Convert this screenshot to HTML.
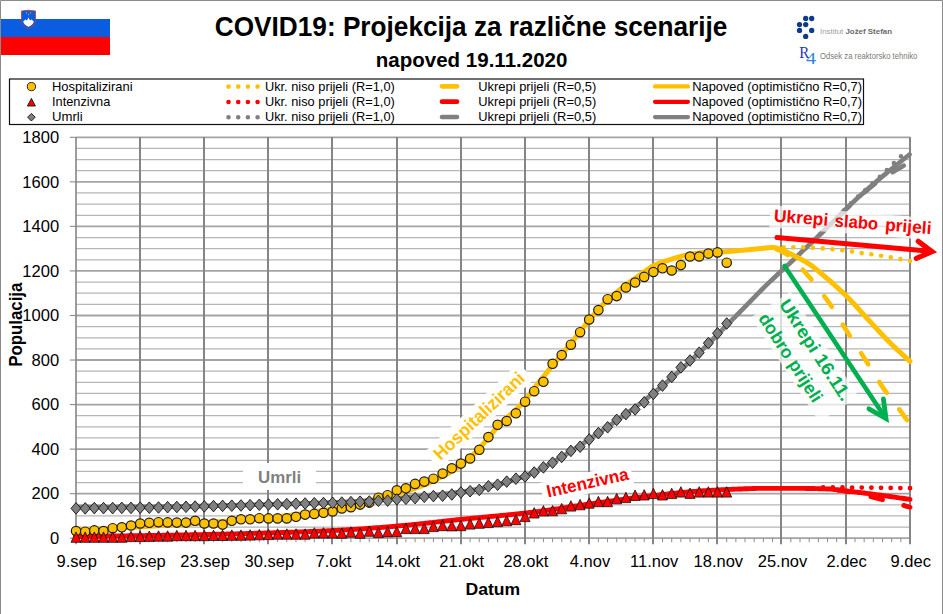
<!DOCTYPE html>
<html><head><meta charset="utf-8"><title>COVID19 projekcija</title>
<style>
html,body{margin:0;padding:0;background:#fff;}
body{width:943px;height:614px;overflow:hidden;position:relative;font-family:"Liberation Sans",sans-serif;}
svg{position:absolute;left:0;top:0;display:block;}
text{font-family:"Liberation Sans",sans-serif;}
</style></head><body>
<svg width="943" height="614" viewBox="0 0 943 614">
<rect x="0" y="0" width="943" height="614" fill="#fff"/>

<path d="M0.5,614 V0.5 H942.5 V614" fill="none" stroke="#8a8a8a" stroke-width="1"/>
<rect x="1" y="19" width="109" height="18" fill="#0a5ce0"/>
<rect x="1" y="37" width="109" height="18" fill="#ff0000"/>
<path d="M21.5,11 Q28.5,9.5 35.5,11 L35.5,21 Q35.5,26 28.5,28.5 Q21.5,26 21.5,21 Z" fill="#0a5ce0" stroke="#c0392b" stroke-width="0.8"/>
<path d="M23.2,21.5 L25.5,19.5 L27,20.5 L28.5,17.5 L30,20.5 L31.5,19.5 L33.8,21.5 Q33,25 28.5,26.8 Q24,25 23.2,21.5 Z" fill="#fff"/>
<circle cx="26.5" cy="12.8" r="0.6" fill="#f2d21b"/><circle cx="30.5" cy="12.8" r="0.6" fill="#f2d21b"/><circle cx="28.5" cy="14.6" r="0.6" fill="#f2d21b"/>
<text x="214.8" y="35.6" font-size="28.5" font-weight="bold" fill="#000" textLength="512.5" lengthAdjust="spacingAndGlyphs">COVID19: Projekcija za različne scenarije</text>
<text x="375.8" y="66.7" font-size="20.5" font-weight="bold" fill="#000" textLength="191.6" lengthAdjust="spacingAndGlyphs">napoved 19.11.2020</text>
<circle cx="805.7" cy="18.5" r="2.65" fill="#0d3a8a"/>
<circle cx="811.7" cy="18.5" r="2.65" fill="#0d3a8a"/>
<circle cx="799.5" cy="24.6" r="2.65" fill="#0d3a8a"/>
<circle cx="805.7" cy="24.6" r="2.65" fill="#0d3a8a"/>
<circle cx="799.5" cy="30.4" r="2.65" fill="#0d3a8a"/>
<circle cx="811.7" cy="30.4" r="2.65" fill="#0d3a8a"/>
<circle cx="805.7" cy="36.4" r="2.65" fill="#0d3a8a"/>
<text x="820" y="33.6" font-size="7.6" fill="#a0a0a0" textLength="72" lengthAdjust="spacingAndGlyphs">Institut <tspan font-weight="bold" fill="#6a6a6a">Jožef Stefan</tspan></text>
<text x="799.3" y="58.4" style="font-family:'Liberation Serif',serif" font-size="16.5" fill="#1f35b8" textLength="10" lengthAdjust="spacingAndGlyphs">R</text>
<text x="806" y="64.3" style="font-family:'Liberation Serif',serif" font-size="16.5" fill="#2f86e0" textLength="10" lengthAdjust="spacingAndGlyphs">4</text>
<text x="820" y="58.6" font-size="8.2" fill="#7a7a7a" textLength="97.4" lengthAdjust="spacingAndGlyphs">Odsek za reaktorsko tehniko</text>
<rect x="9.5" y="79" width="854" height="45.5" fill="#fff" stroke="#111" stroke-width="1.2"/>
<circle cx="31.4" cy="86.6" r="4.1" fill="#FFC000" stroke="#111" stroke-width="0.9"/>
<path d="M27.4,106 L31.4,98.4 L35.4,106 Z" fill="#FF0000" stroke="#111" stroke-width="0.9"/>
<path d="M31.4,113.4 L35.2,117.2 L31.4,121 L27.6,117.2 Z" fill="#808080" stroke="#111" stroke-width="0.9"/>
<text x="52" y="90.7" font-size="13.5" fill="#000" textLength="80.6" lengthAdjust="spacingAndGlyphs">Hospitalizirani</text>
<path d="M228.5,86.6 L258,86.6" stroke="#FFC000" stroke-width="4.6" stroke-linecap="round" stroke-dasharray="0 9.7" fill="none"/>
<text x="264.9" y="90.7" font-size="13.5" fill="#000" textLength="129.9" lengthAdjust="spacingAndGlyphs">Ukr. niso prijeli (R=1,0)</text>
<path d="M442,86.3 L457,86.3" stroke="#FFC000" stroke-width="4.7" stroke-linecap="round" fill="none"/>
<text x="478.3" y="90.7" font-size="13.5" fill="#000" textLength="117.9" lengthAdjust="spacingAndGlyphs">Ukrepi prijeli (R=0,5)</text>
<path d="M655,86.39999999999999 L688,86.39999999999999" stroke="#FFC000" stroke-width="4.2" stroke-linecap="round" fill="none"/>
<text x="692.2" y="90.7" font-size="13.5" fill="#000" textLength="169.8" lengthAdjust="spacingAndGlyphs">Napoved (optimistično R=0,7)</text>
<text x="52" y="105.9" font-size="13.5" fill="#000" textLength="58.3" lengthAdjust="spacingAndGlyphs">Intenzivna</text>
<path d="M228.5,102.0 L258,102.0" stroke="#FF0000" stroke-width="4.6" stroke-linecap="round" stroke-dasharray="0 9.7" fill="none"/>
<text x="264.9" y="105.9" font-size="13.5" fill="#000" textLength="129.9" lengthAdjust="spacingAndGlyphs">Ukr. niso prijeli (R=1,0)</text>
<path d="M442,101.7 L457,101.7" stroke="#FF0000" stroke-width="4.7" stroke-linecap="round" fill="none"/>
<text x="478.3" y="105.9" font-size="13.5" fill="#000" textLength="117.9" lengthAdjust="spacingAndGlyphs">Ukrepi prijeli (R=0,5)</text>
<path d="M655,101.8 L688,101.8" stroke="#FF0000" stroke-width="4.2" stroke-linecap="round" fill="none"/>
<text x="692.2" y="105.9" font-size="13.5" fill="#000" textLength="169.8" lengthAdjust="spacingAndGlyphs">Napoved (optimistično R=0,7)</text>
<text x="52" y="121.1" font-size="13.5" fill="#000" textLength="30.7" lengthAdjust="spacingAndGlyphs">Umrli</text>
<path d="M228.5,117.3 L258,117.3" stroke="#808080" stroke-width="4.6" stroke-linecap="round" stroke-dasharray="0 9.7" fill="none"/>
<text x="264.9" y="121.1" font-size="13.5" fill="#000" textLength="129.9" lengthAdjust="spacingAndGlyphs">Ukr. niso prijeli (R=1,0)</text>
<path d="M442,117.0 L457,117.0" stroke="#808080" stroke-width="4.7" stroke-linecap="round" fill="none"/>
<text x="478.3" y="121.1" font-size="13.5" fill="#000" textLength="117.9" lengthAdjust="spacingAndGlyphs">Ukrepi prijeli (R=0,5)</text>
<path d="M655,117.1 L688,117.1" stroke="#808080" stroke-width="4.2" stroke-linecap="round" fill="none"/>
<text x="692.2" y="121.1" font-size="13.5" fill="#000" textLength="169.8" lengthAdjust="spacingAndGlyphs">Napoved (optimistično R=0,7)</text>
<line x1="76.0" y1="538.20" x2="910.0" y2="538.20" stroke="#a4a4a4" stroke-width="1.8"/>
<line x1="76.0" y1="527.06" x2="910.0" y2="527.06" stroke="#b6b6b6" stroke-width="1.25"/>
<line x1="76.0" y1="515.93" x2="910.0" y2="515.93" stroke="#b6b6b6" stroke-width="1.25"/>
<line x1="76.0" y1="504.79" x2="910.0" y2="504.79" stroke="#b6b6b6" stroke-width="1.25"/>
<line x1="76.0" y1="493.66" x2="910.0" y2="493.66" stroke="#a4a4a4" stroke-width="1.8"/>
<line x1="76.0" y1="482.52" x2="910.0" y2="482.52" stroke="#b6b6b6" stroke-width="1.25"/>
<line x1="76.0" y1="471.38" x2="910.0" y2="471.38" stroke="#b6b6b6" stroke-width="1.25"/>
<line x1="76.0" y1="460.25" x2="910.0" y2="460.25" stroke="#b6b6b6" stroke-width="1.25"/>
<line x1="76.0" y1="449.11" x2="910.0" y2="449.11" stroke="#a4a4a4" stroke-width="1.8"/>
<line x1="76.0" y1="437.98" x2="910.0" y2="437.98" stroke="#b6b6b6" stroke-width="1.25"/>
<line x1="76.0" y1="426.84" x2="910.0" y2="426.84" stroke="#b6b6b6" stroke-width="1.25"/>
<line x1="76.0" y1="415.70" x2="910.0" y2="415.70" stroke="#b6b6b6" stroke-width="1.25"/>
<line x1="76.0" y1="404.57" x2="910.0" y2="404.57" stroke="#a4a4a4" stroke-width="1.8"/>
<line x1="76.0" y1="393.43" x2="910.0" y2="393.43" stroke="#b6b6b6" stroke-width="1.25"/>
<line x1="76.0" y1="382.29" x2="910.0" y2="382.29" stroke="#b6b6b6" stroke-width="1.25"/>
<line x1="76.0" y1="371.16" x2="910.0" y2="371.16" stroke="#b6b6b6" stroke-width="1.25"/>
<line x1="76.0" y1="360.02" x2="910.0" y2="360.02" stroke="#a4a4a4" stroke-width="1.8"/>
<line x1="76.0" y1="348.89" x2="910.0" y2="348.89" stroke="#b6b6b6" stroke-width="1.25"/>
<line x1="76.0" y1="337.75" x2="910.0" y2="337.75" stroke="#b6b6b6" stroke-width="1.25"/>
<line x1="76.0" y1="326.61" x2="910.0" y2="326.61" stroke="#b6b6b6" stroke-width="1.25"/>
<line x1="76.0" y1="315.48" x2="910.0" y2="315.48" stroke="#a4a4a4" stroke-width="1.8"/>
<line x1="76.0" y1="304.34" x2="910.0" y2="304.34" stroke="#b6b6b6" stroke-width="1.25"/>
<line x1="76.0" y1="293.21" x2="910.0" y2="293.21" stroke="#b6b6b6" stroke-width="1.25"/>
<line x1="76.0" y1="282.07" x2="910.0" y2="282.07" stroke="#b6b6b6" stroke-width="1.25"/>
<line x1="76.0" y1="270.93" x2="910.0" y2="270.93" stroke="#a4a4a4" stroke-width="1.8"/>
<line x1="76.0" y1="259.80" x2="910.0" y2="259.80" stroke="#b6b6b6" stroke-width="1.25"/>
<line x1="76.0" y1="248.66" x2="910.0" y2="248.66" stroke="#b6b6b6" stroke-width="1.25"/>
<line x1="76.0" y1="237.53" x2="910.0" y2="237.53" stroke="#b6b6b6" stroke-width="1.25"/>
<line x1="76.0" y1="226.39" x2="910.0" y2="226.39" stroke="#a4a4a4" stroke-width="1.8"/>
<line x1="76.0" y1="215.25" x2="910.0" y2="215.25" stroke="#b6b6b6" stroke-width="1.25"/>
<line x1="76.0" y1="204.12" x2="910.0" y2="204.12" stroke="#b6b6b6" stroke-width="1.25"/>
<line x1="76.0" y1="192.98" x2="910.0" y2="192.98" stroke="#b6b6b6" stroke-width="1.25"/>
<line x1="76.0" y1="181.84" x2="910.0" y2="181.84" stroke="#a4a4a4" stroke-width="1.8"/>
<line x1="76.0" y1="170.71" x2="910.0" y2="170.71" stroke="#b6b6b6" stroke-width="1.25"/>
<line x1="76.0" y1="159.57" x2="910.0" y2="159.57" stroke="#b6b6b6" stroke-width="1.25"/>
<line x1="76.0" y1="148.44" x2="910.0" y2="148.44" stroke="#b6b6b6" stroke-width="1.25"/>
<line x1="76.0" y1="137.30" x2="910.0" y2="137.30" stroke="#a4a4a4" stroke-width="1.8"/>
<line x1="76.00" y1="137.00" x2="76.00" y2="544.20" stroke="#858585" stroke-width="1.6"/>
<line x1="140.00" y1="137.00" x2="140.00" y2="544.20" stroke="#858585" stroke-width="2"/>
<line x1="204.00" y1="137.00" x2="204.00" y2="544.20" stroke="#858585" stroke-width="2"/>
<line x1="268.00" y1="137.00" x2="268.00" y2="544.20" stroke="#858585" stroke-width="2"/>
<line x1="332.00" y1="137.00" x2="332.00" y2="544.20" stroke="#858585" stroke-width="2"/>
<line x1="397.00" y1="137.00" x2="397.00" y2="544.20" stroke="#858585" stroke-width="2"/>
<line x1="461.00" y1="137.00" x2="461.00" y2="544.20" stroke="#858585" stroke-width="2"/>
<line x1="525.00" y1="137.00" x2="525.00" y2="544.20" stroke="#858585" stroke-width="2"/>
<line x1="589.00" y1="137.00" x2="589.00" y2="544.20" stroke="#858585" stroke-width="2"/>
<line x1="653.00" y1="137.00" x2="653.00" y2="544.20" stroke="#858585" stroke-width="2"/>
<line x1="717.00" y1="137.00" x2="717.00" y2="544.20" stroke="#858585" stroke-width="2"/>
<line x1="781.00" y1="137.00" x2="781.00" y2="544.20" stroke="#858585" stroke-width="2"/>
<line x1="846.00" y1="137.00" x2="846.00" y2="544.20" stroke="#858585" stroke-width="2"/>
<line x1="910.00" y1="137.00" x2="910.00" y2="544.20" stroke="#858585" stroke-width="2"/>
<line x1="85.16" y1="538.20" x2="85.16" y2="542.20" stroke="#8c8c8c" stroke-width="1"/>
<line x1="94.33" y1="538.20" x2="94.33" y2="542.20" stroke="#8c8c8c" stroke-width="1"/>
<line x1="103.49" y1="538.20" x2="103.49" y2="542.20" stroke="#8c8c8c" stroke-width="1"/>
<line x1="112.66" y1="538.20" x2="112.66" y2="542.20" stroke="#8c8c8c" stroke-width="1"/>
<line x1="121.82" y1="538.20" x2="121.82" y2="542.20" stroke="#8c8c8c" stroke-width="1"/>
<line x1="130.99" y1="538.20" x2="130.99" y2="542.20" stroke="#8c8c8c" stroke-width="1"/>
<line x1="149.32" y1="538.20" x2="149.32" y2="542.20" stroke="#8c8c8c" stroke-width="1"/>
<line x1="158.48" y1="538.20" x2="158.48" y2="542.20" stroke="#8c8c8c" stroke-width="1"/>
<line x1="167.65" y1="538.20" x2="167.65" y2="542.20" stroke="#8c8c8c" stroke-width="1"/>
<line x1="176.81" y1="538.20" x2="176.81" y2="542.20" stroke="#8c8c8c" stroke-width="1"/>
<line x1="185.98" y1="538.20" x2="185.98" y2="542.20" stroke="#8c8c8c" stroke-width="1"/>
<line x1="195.14" y1="538.20" x2="195.14" y2="542.20" stroke="#8c8c8c" stroke-width="1"/>
<line x1="213.47" y1="538.20" x2="213.47" y2="542.20" stroke="#8c8c8c" stroke-width="1"/>
<line x1="222.64" y1="538.20" x2="222.64" y2="542.20" stroke="#8c8c8c" stroke-width="1"/>
<line x1="231.80" y1="538.20" x2="231.80" y2="542.20" stroke="#8c8c8c" stroke-width="1"/>
<line x1="240.97" y1="538.20" x2="240.97" y2="542.20" stroke="#8c8c8c" stroke-width="1"/>
<line x1="250.13" y1="538.20" x2="250.13" y2="542.20" stroke="#8c8c8c" stroke-width="1"/>
<line x1="259.30" y1="538.20" x2="259.30" y2="542.20" stroke="#8c8c8c" stroke-width="1"/>
<line x1="277.63" y1="538.20" x2="277.63" y2="542.20" stroke="#8c8c8c" stroke-width="1"/>
<line x1="286.79" y1="538.20" x2="286.79" y2="542.20" stroke="#8c8c8c" stroke-width="1"/>
<line x1="295.96" y1="538.20" x2="295.96" y2="542.20" stroke="#8c8c8c" stroke-width="1"/>
<line x1="305.12" y1="538.20" x2="305.12" y2="542.20" stroke="#8c8c8c" stroke-width="1"/>
<line x1="314.29" y1="538.20" x2="314.29" y2="542.20" stroke="#8c8c8c" stroke-width="1"/>
<line x1="323.45" y1="538.20" x2="323.45" y2="542.20" stroke="#8c8c8c" stroke-width="1"/>
<line x1="341.78" y1="538.20" x2="341.78" y2="542.20" stroke="#8c8c8c" stroke-width="1"/>
<line x1="350.95" y1="538.20" x2="350.95" y2="542.20" stroke="#8c8c8c" stroke-width="1"/>
<line x1="360.11" y1="538.20" x2="360.11" y2="542.20" stroke="#8c8c8c" stroke-width="1"/>
<line x1="369.27" y1="538.20" x2="369.27" y2="542.20" stroke="#8c8c8c" stroke-width="1"/>
<line x1="378.44" y1="538.20" x2="378.44" y2="542.20" stroke="#8c8c8c" stroke-width="1"/>
<line x1="387.60" y1="538.20" x2="387.60" y2="542.20" stroke="#8c8c8c" stroke-width="1"/>
<line x1="405.93" y1="538.20" x2="405.93" y2="542.20" stroke="#8c8c8c" stroke-width="1"/>
<line x1="415.10" y1="538.20" x2="415.10" y2="542.20" stroke="#8c8c8c" stroke-width="1"/>
<line x1="424.26" y1="538.20" x2="424.26" y2="542.20" stroke="#8c8c8c" stroke-width="1"/>
<line x1="433.43" y1="538.20" x2="433.43" y2="542.20" stroke="#8c8c8c" stroke-width="1"/>
<line x1="442.59" y1="538.20" x2="442.59" y2="542.20" stroke="#8c8c8c" stroke-width="1"/>
<line x1="451.76" y1="538.20" x2="451.76" y2="542.20" stroke="#8c8c8c" stroke-width="1"/>
<line x1="470.09" y1="538.20" x2="470.09" y2="542.20" stroke="#8c8c8c" stroke-width="1"/>
<line x1="479.25" y1="538.20" x2="479.25" y2="542.20" stroke="#8c8c8c" stroke-width="1"/>
<line x1="488.42" y1="538.20" x2="488.42" y2="542.20" stroke="#8c8c8c" stroke-width="1"/>
<line x1="497.58" y1="538.20" x2="497.58" y2="542.20" stroke="#8c8c8c" stroke-width="1"/>
<line x1="506.75" y1="538.20" x2="506.75" y2="542.20" stroke="#8c8c8c" stroke-width="1"/>
<line x1="515.91" y1="538.20" x2="515.91" y2="542.20" stroke="#8c8c8c" stroke-width="1"/>
<line x1="534.24" y1="538.20" x2="534.24" y2="542.20" stroke="#8c8c8c" stroke-width="1"/>
<line x1="543.41" y1="538.20" x2="543.41" y2="542.20" stroke="#8c8c8c" stroke-width="1"/>
<line x1="552.57" y1="538.20" x2="552.57" y2="542.20" stroke="#8c8c8c" stroke-width="1"/>
<line x1="561.74" y1="538.20" x2="561.74" y2="542.20" stroke="#8c8c8c" stroke-width="1"/>
<line x1="570.90" y1="538.20" x2="570.90" y2="542.20" stroke="#8c8c8c" stroke-width="1"/>
<line x1="580.07" y1="538.20" x2="580.07" y2="542.20" stroke="#8c8c8c" stroke-width="1"/>
<line x1="598.40" y1="538.20" x2="598.40" y2="542.20" stroke="#8c8c8c" stroke-width="1"/>
<line x1="607.56" y1="538.20" x2="607.56" y2="542.20" stroke="#8c8c8c" stroke-width="1"/>
<line x1="616.73" y1="538.20" x2="616.73" y2="542.20" stroke="#8c8c8c" stroke-width="1"/>
<line x1="625.89" y1="538.20" x2="625.89" y2="542.20" stroke="#8c8c8c" stroke-width="1"/>
<line x1="635.05" y1="538.20" x2="635.05" y2="542.20" stroke="#8c8c8c" stroke-width="1"/>
<line x1="644.22" y1="538.20" x2="644.22" y2="542.20" stroke="#8c8c8c" stroke-width="1"/>
<line x1="662.55" y1="538.20" x2="662.55" y2="542.20" stroke="#8c8c8c" stroke-width="1"/>
<line x1="671.71" y1="538.20" x2="671.71" y2="542.20" stroke="#8c8c8c" stroke-width="1"/>
<line x1="680.88" y1="538.20" x2="680.88" y2="542.20" stroke="#8c8c8c" stroke-width="1"/>
<line x1="690.04" y1="538.20" x2="690.04" y2="542.20" stroke="#8c8c8c" stroke-width="1"/>
<line x1="699.21" y1="538.20" x2="699.21" y2="542.20" stroke="#8c8c8c" stroke-width="1"/>
<line x1="708.37" y1="538.20" x2="708.37" y2="542.20" stroke="#8c8c8c" stroke-width="1"/>
<line x1="726.70" y1="538.20" x2="726.70" y2="542.20" stroke="#8c8c8c" stroke-width="1"/>
<line x1="735.87" y1="538.20" x2="735.87" y2="542.20" stroke="#8c8c8c" stroke-width="1"/>
<line x1="745.03" y1="538.20" x2="745.03" y2="542.20" stroke="#8c8c8c" stroke-width="1"/>
<line x1="754.20" y1="538.20" x2="754.20" y2="542.20" stroke="#8c8c8c" stroke-width="1"/>
<line x1="763.36" y1="538.20" x2="763.36" y2="542.20" stroke="#8c8c8c" stroke-width="1"/>
<line x1="772.53" y1="538.20" x2="772.53" y2="542.20" stroke="#8c8c8c" stroke-width="1"/>
<line x1="790.86" y1="538.20" x2="790.86" y2="542.20" stroke="#8c8c8c" stroke-width="1"/>
<line x1="800.02" y1="538.20" x2="800.02" y2="542.20" stroke="#8c8c8c" stroke-width="1"/>
<line x1="809.19" y1="538.20" x2="809.19" y2="542.20" stroke="#8c8c8c" stroke-width="1"/>
<line x1="818.35" y1="538.20" x2="818.35" y2="542.20" stroke="#8c8c8c" stroke-width="1"/>
<line x1="827.52" y1="538.20" x2="827.52" y2="542.20" stroke="#8c8c8c" stroke-width="1"/>
<line x1="836.68" y1="538.20" x2="836.68" y2="542.20" stroke="#8c8c8c" stroke-width="1"/>
<line x1="855.01" y1="538.20" x2="855.01" y2="542.20" stroke="#8c8c8c" stroke-width="1"/>
<line x1="864.18" y1="538.20" x2="864.18" y2="542.20" stroke="#8c8c8c" stroke-width="1"/>
<line x1="873.34" y1="538.20" x2="873.34" y2="542.20" stroke="#8c8c8c" stroke-width="1"/>
<line x1="882.51" y1="538.20" x2="882.51" y2="542.20" stroke="#8c8c8c" stroke-width="1"/>
<line x1="891.67" y1="538.20" x2="891.67" y2="542.20" stroke="#8c8c8c" stroke-width="1"/>
<line x1="900.84" y1="538.20" x2="900.84" y2="542.20" stroke="#8c8c8c" stroke-width="1"/>
<line x1="69.8" y1="538.20" x2="76.0" y2="538.20" stroke="#8c8c8c" stroke-width="1.1"/>
<line x1="69.8" y1="493.66" x2="76.0" y2="493.66" stroke="#8c8c8c" stroke-width="1.1"/>
<line x1="69.8" y1="449.11" x2="76.0" y2="449.11" stroke="#8c8c8c" stroke-width="1.1"/>
<line x1="69.8" y1="404.57" x2="76.0" y2="404.57" stroke="#8c8c8c" stroke-width="1.1"/>
<line x1="69.8" y1="360.02" x2="76.0" y2="360.02" stroke="#8c8c8c" stroke-width="1.1"/>
<line x1="69.8" y1="315.48" x2="76.0" y2="315.48" stroke="#8c8c8c" stroke-width="1.1"/>
<line x1="69.8" y1="270.93" x2="76.0" y2="270.93" stroke="#8c8c8c" stroke-width="1.1"/>
<line x1="69.8" y1="226.39" x2="76.0" y2="226.39" stroke="#8c8c8c" stroke-width="1.1"/>
<line x1="69.8" y1="181.84" x2="76.0" y2="181.84" stroke="#8c8c8c" stroke-width="1.1"/>
<line x1="69.8" y1="137.30" x2="76.0" y2="137.30" stroke="#8c8c8c" stroke-width="1.1"/>
<g transform="translate(59.2,543.9) scale(1.05,1)"><text x="0" y="0" font-size="15.8" fill="#000" text-anchor="end">0</text></g>
<g transform="translate(59.2,499.4) scale(1.05,1)"><text x="0" y="0" font-size="15.8" fill="#000" text-anchor="end">200</text></g>
<g transform="translate(59.2,454.8) scale(1.05,1)"><text x="0" y="0" font-size="15.8" fill="#000" text-anchor="end">400</text></g>
<g transform="translate(59.2,410.3) scale(1.05,1)"><text x="0" y="0" font-size="15.8" fill="#000" text-anchor="end">600</text></g>
<g transform="translate(59.2,365.7) scale(1.05,1)"><text x="0" y="0" font-size="15.8" fill="#000" text-anchor="end">800</text></g>
<g transform="translate(59.2,321.2) scale(1.05,1)"><text x="0" y="0" font-size="15.8" fill="#000" text-anchor="end">1000</text></g>
<g transform="translate(59.2,276.6) scale(1.05,1)"><text x="0" y="0" font-size="15.8" fill="#000" text-anchor="end">1200</text></g>
<g transform="translate(59.2,232.1) scale(1.05,1)"><text x="0" y="0" font-size="15.8" fill="#000" text-anchor="end">1400</text></g>
<g transform="translate(59.2,187.5) scale(1.05,1)"><text x="0" y="0" font-size="15.8" fill="#000" text-anchor="end">1600</text></g>
<g transform="translate(59.2,143.0) scale(1.05,1)"><text x="0" y="0" font-size="15.8" fill="#000" text-anchor="end">1800</text></g>
<g transform="translate(76.8,566.9) scale(1.045,1)"><text x="0" y="0" font-size="15.8" fill="#000" text-anchor="middle">9.sep</text></g>
<g transform="translate(141.0,566.9) scale(1.045,1)"><text x="0" y="0" font-size="15.8" fill="#000" text-anchor="middle">16.sep</text></g>
<g transform="translate(205.1,566.9) scale(1.045,1)"><text x="0" y="0" font-size="15.8" fill="#000" text-anchor="middle">23.sep</text></g>
<g transform="translate(269.3,566.9) scale(1.045,1)"><text x="0" y="0" font-size="15.8" fill="#000" text-anchor="middle">30.sep</text></g>
<g transform="translate(333.4,566.9) scale(1.045,1)"><text x="0" y="0" font-size="15.8" fill="#000" text-anchor="middle">7.okt</text></g>
<g transform="translate(397.6,566.9) scale(1.045,1)"><text x="0" y="0" font-size="15.8" fill="#000" text-anchor="middle">14.okt</text></g>
<g transform="translate(461.7,566.9) scale(1.045,1)"><text x="0" y="0" font-size="15.8" fill="#000" text-anchor="middle">21.okt</text></g>
<g transform="translate(525.9,566.9) scale(1.045,1)"><text x="0" y="0" font-size="15.8" fill="#000" text-anchor="middle">28.okt</text></g>
<g transform="translate(590.0,566.9) scale(1.045,1)"><text x="0" y="0" font-size="15.8" fill="#000" text-anchor="middle">4.nov</text></g>
<g transform="translate(654.2,566.9) scale(1.045,1)"><text x="0" y="0" font-size="15.8" fill="#000" text-anchor="middle">11.nov</text></g>
<g transform="translate(718.3,566.9) scale(1.045,1)"><text x="0" y="0" font-size="15.8" fill="#000" text-anchor="middle">18.nov</text></g>
<g transform="translate(782.5,566.9) scale(1.045,1)"><text x="0" y="0" font-size="15.8" fill="#000" text-anchor="middle">25.nov</text></g>
<g transform="translate(846.6,566.9) scale(1.045,1)"><text x="0" y="0" font-size="15.8" fill="#000" text-anchor="middle">2.dec</text></g>
<g transform="translate(910.8,566.9) scale(1.045,1)"><text x="0" y="0" font-size="15.8" fill="#000" text-anchor="middle">9.dec</text></g>
<text x="465.5" y="594.5" font-size="17" font-weight="bold" fill="#000" textLength="54.7" lengthAdjust="spacingAndGlyphs">Datum</text>
<text transform="translate(22.0,366.8) rotate(-90)" x="0" y="0" font-size="18" font-weight="bold" fill="#000" textLength="84.2" lengthAdjust="spacingAndGlyphs">Populacija</text>
<path d="M75.50,507.20 L77.00,507.19 L78.50,507.18 L80.00,507.17 L81.50,507.16 L83.00,507.15 L84.50,507.15 L86.00,507.14 L87.50,507.13 L89.00,507.12 L90.50,507.11 L92.00,507.10 L93.50,507.10 L95.00,507.09 L96.50,507.08 L98.00,507.07 L99.50,507.06 L101.00,507.06 L102.50,507.05 L104.00,507.04 L105.50,507.03 L107.00,507.03 L108.50,507.02 L110.00,507.01 L111.50,507.00 L113.00,506.99 L114.50,506.99 L116.00,506.98 L117.50,506.97 L119.00,506.96 L120.50,506.95 L122.00,506.95 L123.50,506.94 L125.00,506.93 L126.50,506.92 L128.00,506.91 L129.50,506.90 L131.00,506.90 L132.50,506.89 L134.00,506.88 L135.50,506.87 L137.00,506.86 L138.50,506.85 L140.00,506.84 L141.50,506.83 L143.00,506.82 L144.50,506.81 L146.00,506.80 L147.50,506.79 L149.00,506.78 L150.50,506.77 L152.00,506.76 L153.50,506.74 L155.00,506.73 L156.50,506.72 L158.00,506.71 L159.50,506.70 L161.00,506.68 L162.50,506.67 L164.00,506.66 L165.50,506.64 L167.00,506.63 L168.50,506.61 L170.00,506.60 L171.50,506.58 L173.00,506.57 L174.50,506.55 L176.00,506.53 L177.50,506.51 L179.00,506.49 L180.50,506.47 L182.00,506.45 L183.50,506.43 L185.00,506.40 L186.50,506.38 L188.00,506.35 L189.50,506.33 L191.00,506.30 L192.50,506.27 L194.00,506.24 L195.50,506.21 L197.00,506.18 L198.50,506.15 L200.00,506.12 L201.50,506.09 L203.00,506.06 L204.50,506.02 L206.00,505.99 L207.50,505.95 L209.00,505.92 L210.50,505.88 L212.00,505.85 L213.50,505.81 L215.00,505.78 L216.50,505.74 L218.00,505.70 L219.50,505.66 L221.00,505.63 L222.50,505.59 L224.00,505.55 L225.50,505.51 L227.00,505.47 L228.50,505.43 L230.00,505.39 L231.50,505.35 L233.00,505.31 L234.50,505.27 L236.00,505.23 L237.50,505.19 L239.00,505.15 L240.50,505.11 L242.00,505.07 L243.50,505.03 L245.00,504.99 L246.50,504.95 L248.00,504.91 L249.50,504.87 L251.00,504.83 L252.50,504.80 L254.00,504.76 L255.50,504.72 L257.00,504.68 L258.50,504.64 L260.00,504.60 L261.51,504.56 L263.02,504.52 L264.53,504.48 L266.04,504.45 L267.55,504.41 L269.06,504.37 L270.57,504.33 L272.08,504.30 L273.58,504.26 L275.09,504.22 L276.60,504.18 L278.11,504.14 L279.62,504.11 L281.13,504.07 L282.64,504.03 L284.15,503.99 L285.66,503.95 L287.17,503.92 L288.68,503.88 L290.19,503.84 L291.70,503.80 L293.21,503.76 L294.72,503.72 L296.23,503.68 L297.74,503.63 L299.25,503.59 L300.75,503.55 L302.26,503.51 L303.77,503.47 L305.28,503.42 L306.79,503.38 L308.30,503.33 L309.81,503.29 L311.32,503.24 L312.83,503.19 L314.34,503.15 L315.85,503.10 L317.36,503.05 L318.87,503.00 L320.38,502.95 L321.89,502.90 L323.40,502.84 L324.91,502.79 L326.42,502.74 L327.92,502.68 L329.43,502.62 L330.94,502.57 L332.45,502.51 L333.96,502.45 L335.47,502.39 L336.98,502.33 L338.49,502.26 L340.00,502.20 L341.50,502.13 L343.00,502.07 L344.50,501.99 L346.00,501.92 L347.50,501.84 L349.00,501.76 L350.50,501.68 L352.00,501.59 L353.50,501.50 L355.00,501.41 L356.50,501.32 L358.00,501.23 L359.50,501.13 L361.00,501.03 L362.50,500.93 L364.00,500.83 L365.50,500.72 L367.00,500.61 L368.50,500.51 L370.00,500.40 L371.50,500.29 L373.00,500.17 L374.50,500.06 L376.00,499.94 L377.50,499.83 L379.00,499.71 L380.50,499.59 L382.00,499.47 L383.50,499.35 L385.00,499.23 L386.50,499.11 L388.00,498.99 L389.50,498.86 L391.00,498.74 L392.50,498.62 L394.00,498.49 L395.50,498.37 L397.00,498.25 L398.50,498.12 L400.00,498.00 L401.50,497.88 L403.00,497.75 L404.50,497.63 L406.00,497.51 L407.50,497.38 L409.00,497.26 L410.50,497.13 L412.00,497.01 L413.50,496.88 L415.00,496.75 L416.50,496.62 L418.00,496.49 L419.50,496.36 L421.00,496.23 L422.50,496.10 L424.00,495.96 L425.50,495.83 L427.00,495.69 L428.50,495.55 L430.00,495.41 L431.50,495.26 L433.00,495.11 L434.50,494.97 L436.00,494.82 L437.50,494.66 L439.00,494.51 L440.50,494.35 L442.00,494.19 L443.50,494.02 L445.00,493.86 L446.50,493.69 L448.00,493.51 L449.50,493.34 L451.00,493.16 L452.50,492.97 L454.00,492.79 L455.50,492.60 L457.00,492.40 L458.50,492.20 L460.00,492.00 L461.54,491.79 L463.08,491.56 L464.62,491.33 L466.15,491.09 L467.69,490.84 L469.23,490.59 L470.77,490.32 L472.31,490.05 L473.85,489.77 L475.38,489.49 L476.92,489.19 L478.46,488.89 L480.00,488.58 L481.54,488.27 L483.08,487.95 L484.62,487.62 L486.15,487.28 L487.69,486.94 L489.23,486.59 L490.77,486.24 L492.31,485.88 L493.85,485.52 L495.38,485.14 L496.92,484.77 L498.46,484.39 L500.00,484.00 L501.50,483.61 L503.00,483.22 L504.50,482.81 L506.00,482.38 L507.50,481.95 L509.00,481.50 L510.50,481.04 L512.00,480.57 L513.50,480.09 L515.00,479.59 L516.50,479.08 L518.00,478.56 L519.50,478.03 L521.00,477.49 L522.50,476.94 L524.00,476.37 L525.50,475.80 L527.00,475.21 L528.50,474.61 L530.00,474.00 L531.50,473.37 L533.00,472.71 L534.50,472.03 L536.00,471.32 L537.50,470.59 L539.00,469.84 L540.50,469.07 L542.00,468.28 L543.50,467.47 L545.00,466.65 L546.50,465.81 L548.00,464.97 L549.50,464.12 L551.00,463.25 L552.50,462.38 L554.00,461.51 L555.50,460.63 L557.00,459.75 L558.50,458.88 L560.00,458.00 L561.54,457.10 L563.08,456.18 L564.62,455.26 L566.15,454.32 L567.69,453.37 L569.23,452.42 L570.77,451.45 L572.31,450.48 L573.85,449.50 L575.38,448.51 L576.92,447.51 L578.46,446.50 L580.00,445.49 L581.54,444.48 L583.08,443.46 L584.62,442.43 L586.15,441.40 L587.69,440.36 L589.23,439.33 L590.77,438.28 L592.31,437.24 L593.85,436.19 L595.38,435.15 L596.92,434.10 L598.46,433.05 L600.00,432.00 L601.52,430.97 L603.03,429.93 L604.55,428.90 L606.06,427.86 L607.58,426.82 L609.09,425.78 L610.61,424.74 L612.12,423.70 L613.64,422.65 L615.15,421.60 L616.67,420.55 L618.18,419.49 L619.70,418.43 L621.21,417.37 L622.73,416.30 L624.24,415.23 L625.76,414.15 L627.27,413.07 L628.79,411.98 L630.30,410.88 L631.82,409.78 L633.33,408.67 L634.85,407.56 L636.36,406.44 L637.88,405.31 L639.39,404.18 L640.91,403.04 L642.42,401.88 L643.94,400.73 L645.45,399.56 L646.97,398.38 L648.48,397.20 L650.00,396.00 L651.52,394.79 L653.03,393.58 L654.55,392.35 L656.06,391.12 L657.58,389.87 L659.09,388.62 L660.61,387.36 L662.12,386.08 L663.64,384.80 L665.15,383.51 L666.67,382.22 L668.18,380.91 L669.70,379.60 L671.21,378.27 L672.73,376.95 L674.24,375.61 L675.76,374.27 L677.27,372.92 L678.79,371.56 L680.30,370.20 L681.82,368.83 L683.33,367.45 L684.85,366.07 L686.36,364.69 L687.88,363.29 L689.39,361.90 L690.91,360.50 L692.42,359.09 L693.94,357.68 L695.45,356.27 L696.97,354.85 L698.48,353.43 L700.00,352.00 L701.50,350.58 L703.00,349.14 L704.50,347.68 L706.00,346.22 L707.50,344.74 L709.00,343.24 L710.50,341.74 L712.00,340.23 L713.50,338.72 L715.00,337.20 L716.50,335.67 L718.00,334.14 L719.50,332.61 L721.00,331.08 L722.50,329.56 L724.00,328.03 L725.50,326.51 L727.00,325.00 L728.58,323.41 L730.16,321.82 L731.74,320.23 L733.32,318.63 L734.90,317.04 L736.48,315.44 L738.06,313.84 L739.64,312.24 L741.22,310.64 L742.80,309.04 L744.38,307.44 L745.96,305.83 L747.54,304.22 L749.12,302.61 L750.70,301.00 L752.23,299.43 L753.76,297.85 L755.29,296.26 L756.81,294.67 L758.34,293.09 L759.87,291.53 L761.40,290.00 L762.96,288.46 L764.52,286.93 L766.09,285.41 L767.65,283.91 L769.21,282.41 L770.77,280.92 L772.33,279.45 L773.90,277.97 L775.46,276.51 L777.02,275.05 L778.58,273.59 L780.14,272.14 L781.70,270.68 L783.27,269.23 L784.83,267.78 L786.39,266.33 L787.95,264.87 L789.51,263.41 L791.08,261.95 L792.64,260.48 L794.20,259.00 L795.72,257.56 L797.24,256.13 L798.75,254.69 L800.27,253.26 L801.79,251.82 L803.31,250.39 L804.82,248.95 L806.34,247.51 L807.86,246.08 L809.38,244.64 L810.89,243.20 L812.41,241.75 L813.93,240.31 L815.45,238.86 L816.96,237.41 L818.48,235.96 L820.00,234.50 L821.52,233.04 L823.03,231.56 L824.55,230.08 L826.07,228.59 L827.59,227.10 L829.10,225.60 L830.62,224.10 L832.14,222.59 L833.66,221.09 L835.17,219.58 L836.69,218.07 L838.21,216.57 L839.73,215.07 L841.24,213.57 L842.76,212.08 L844.28,210.60 L845.80,209.12 L847.31,207.66 L848.83,206.20 L850.35,204.76 L851.87,203.32 L853.38,201.90 L854.90,200.50 L856.47,199.06 L858.04,197.63 L859.61,196.22 L861.17,194.81 L862.74,193.41 L864.31,192.02 L865.88,190.64 L867.45,189.26 L869.02,187.90 L870.59,186.54 L872.16,185.18 L873.73,183.84 L875.29,182.49 L876.86,181.16 L878.43,179.83 L880.00,178.50 L881.55,177.19 L883.11,175.90 L884.66,174.61 L886.21,173.33 L887.76,172.05 L889.32,170.79 L890.87,169.52 L892.42,168.27 L893.97,167.01 L895.53,165.76 L897.08,164.51 L898.63,163.26 L900.18,162.02 L901.74,160.77 L903.29,159.52 L904.84,158.27 L906.39,157.02 L907.95,155.76 L909.50,154.50" fill="none" stroke="#808080" stroke-width="4.7" stroke-linecap="round" stroke-linejoin="round"/>
<path d="M820.00,234.50 L821.52,233.04 L823.04,231.57 L824.57,230.10 L826.09,228.62 L827.61,227.13 L829.13,225.65 L830.65,224.16 L832.17,222.67 L833.70,221.18 L835.22,219.69 L836.74,218.20 L838.26,216.72 L839.78,215.25 L841.30,213.78 L842.83,212.31 L844.35,210.86 L845.87,209.41 L847.39,207.98 L848.91,206.55 L850.43,205.14 L851.96,203.75 L853.48,202.37 L855.00,201.00 L856.56,199.60 L858.12,198.20 L859.69,196.80 L861.25,195.40 L862.81,194.01 L864.38,192.63 L865.94,191.25 L867.50,189.90 L869.06,188.56 L870.62,187.25 L872.19,185.96 L873.75,184.69 L875.31,183.46 L876.88,182.27 L878.44,181.11 L880.00,180.00 L881.62,178.89 L883.25,177.84 L884.88,176.83 L886.50,175.85 L888.12,174.88 L889.75,173.93 L891.38,172.97 L893.00,172.00 L894.60,171.04 L896.20,170.08 L897.80,169.12 L899.40,168.17 L901.00,167.23 L902.60,166.28 L904.20,165.34 L905.80,164.39 L907.40,163.45 L909.00,162.50" fill="none" stroke="#808080" stroke-width="4.6" stroke-linecap="round" stroke-linejoin="round" stroke-dasharray="13 21" stroke-dashoffset="6"/>
<path d="M820.00,234.50 L821.52,232.98 L823.04,231.45 L824.57,229.91 L826.09,228.37 L827.61,226.83 L829.13,225.29 L830.65,223.75 L832.17,222.20 L833.70,220.66 L835.22,219.12 L836.74,217.58 L838.26,216.04 L839.78,214.50 L841.30,212.97 L842.83,211.45 L844.35,209.93 L845.87,208.41 L847.39,206.90 L848.91,205.40 L850.43,203.91 L851.96,202.43 L853.48,200.96 L855.00,199.50 L856.56,198.01 L858.12,196.55 L859.69,195.09 L861.25,193.65 L862.81,192.21 L864.38,190.79 L865.94,189.37 L867.50,187.95 L869.06,186.54 L870.62,185.12 L872.19,183.71 L873.75,182.28 L875.31,180.85 L876.88,179.41 L878.44,177.96 L880.00,176.50 L881.56,175.03 L883.11,173.56 L884.67,172.07 L886.22,170.59 L887.78,169.09 L889.33,167.60 L890.89,166.09 L892.44,164.59 L894.00,163.08 L895.56,161.57 L897.11,160.06 L898.67,158.55 L900.22,157.04 L901.78,155.52 L903.33,154.01 L904.89,152.51 L906.44,151.00 L908.00,149.50" fill="none" stroke="#808080" stroke-width="4.6" stroke-linecap="round" stroke-linejoin="round" stroke-dasharray="0 9.8" stroke-dashoffset="5.03"/>
<path d="M75.50,530.00 L77.03,529.93 L78.57,529.86 L80.10,529.80 L81.64,529.73 L83.17,529.66 L84.71,529.60 L86.24,529.53 L87.78,529.46 L89.31,529.40 L90.84,529.33 L92.38,529.27 L93.91,529.20 L95.45,529.13 L96.98,529.07 L98.52,529.00 L100.05,528.93 L101.59,528.87 L103.12,528.80 L104.66,528.73 L106.19,528.66 L107.72,528.59 L109.26,528.52 L110.79,528.45 L112.33,528.38 L113.86,528.30 L115.40,528.23 L116.93,528.15 L118.47,528.08 L120.00,528.00 L121.52,527.92 L123.03,527.84 L124.55,527.76 L126.06,527.68 L127.58,527.60 L129.09,527.51 L130.61,527.43 L132.12,527.34 L133.64,527.25 L135.15,527.17 L136.67,527.08 L138.18,526.99 L139.70,526.90 L141.21,526.81 L142.73,526.71 L144.24,526.62 L145.76,526.53 L147.27,526.43 L148.79,526.34 L150.30,526.25 L151.82,526.15 L153.33,526.06 L154.85,525.96 L156.36,525.87 L157.88,525.77 L159.39,525.67 L160.91,525.58 L162.42,525.48 L163.94,525.38 L165.45,525.29 L166.97,525.19 L168.48,525.10 L170.00,525.00 L171.50,524.91 L173.00,524.81 L174.50,524.71 L176.00,524.62 L177.50,524.52 L179.00,524.43 L180.50,524.33 L182.00,524.23 L183.50,524.14 L185.00,524.04 L186.50,523.94 L188.00,523.84 L189.50,523.75 L191.00,523.65 L192.50,523.55 L194.00,523.45 L195.50,523.35 L197.00,523.25 L198.50,523.15 L200.00,523.05 L201.50,522.94 L203.00,522.84 L204.50,522.74 L206.00,522.63 L207.50,522.53 L209.00,522.43 L210.50,522.32 L212.00,522.21 L213.50,522.11 L215.00,522.00 L216.50,521.89 L218.00,521.79 L219.50,521.68 L221.00,521.57 L222.50,521.46 L224.00,521.36 L225.50,521.25 L227.00,521.14 L228.50,521.03 L230.00,520.92 L231.50,520.81 L233.00,520.70 L234.50,520.59 L236.00,520.48 L237.50,520.37 L239.00,520.25 L240.50,520.14 L242.00,520.02 L243.50,519.90 L245.00,519.78 L246.50,519.66 L248.00,519.54 L249.50,519.42 L251.00,519.29 L252.50,519.17 L254.00,519.04 L255.50,518.91 L257.00,518.77 L258.50,518.64 L260.00,518.50 L261.54,518.36 L263.08,518.21 L264.62,518.06 L266.15,517.91 L267.69,517.76 L269.23,517.61 L270.77,517.45 L272.31,517.29 L273.85,517.13 L275.38,516.96 L276.92,516.79 L278.46,516.63 L280.00,516.45 L281.54,516.28 L283.08,516.10 L284.62,515.92 L286.15,515.74 L287.69,515.56 L289.23,515.37 L290.77,515.18 L292.31,514.99 L293.85,514.80 L295.38,514.60 L296.92,514.40 L298.46,514.20 L300.00,514.00 L301.54,513.79 L303.08,513.58 L304.62,513.37 L306.15,513.15 L307.69,512.93 L309.23,512.70 L310.77,512.47 L312.31,512.24 L313.85,512.00 L315.38,511.76 L316.92,511.52 L318.46,511.27 L320.00,511.02 L321.54,510.77 L323.08,510.51 L324.62,510.25 L326.15,509.99 L327.69,509.72 L329.23,509.45 L330.77,509.18 L332.31,508.91 L333.85,508.63 L335.38,508.35 L336.92,508.07 L338.46,507.79 L340.00,507.50 L341.50,507.22 L343.00,506.93 L344.50,506.64 L346.00,506.34 L347.50,506.03 L349.00,505.73 L350.50,505.41 L352.00,505.10 L353.50,504.78 L355.00,504.45 L356.50,504.12 L358.00,503.79 L359.50,503.45 L361.00,503.11 L362.50,502.77 L364.00,502.42 L365.50,502.07 L367.00,501.72 L368.50,501.36 L370.00,501.00 L371.53,500.63 L373.06,500.25 L374.59,499.86 L376.12,499.46 L377.65,499.06 L379.18,498.66 L380.71,498.25 L382.24,497.83 L383.76,497.41 L385.29,496.99 L386.82,496.56 L388.35,496.14 L389.88,495.71 L391.41,495.28 L392.94,494.85 L394.47,494.43 L396.00,494.00 L397.56,493.57 L399.11,493.14 L400.67,492.72 L402.22,492.29 L403.78,491.85 L405.33,491.41 L406.89,490.96 L408.44,490.49 L410.00,490.00 L411.50,489.52 L413.00,489.02 L414.50,488.52 L416.00,488.00 L417.50,487.47 L419.00,486.93 L420.50,486.37 L422.00,485.80 L423.50,485.22 L425.00,484.62 L426.50,484.00 L428.00,483.36 L429.50,482.69 L431.00,481.99 L432.50,481.27 L434.00,480.53 L435.50,479.78 L437.00,479.02 L438.50,478.26 L440.00,477.50 L441.50,476.75 L443.00,476.00 L444.50,475.26 L446.00,474.51 L447.50,473.75 L449.00,472.96 L450.50,472.15 L452.00,471.31 L453.50,470.43 L455.00,469.50 L456.56,468.48 L458.11,467.39 L459.67,466.24 L461.22,465.05 L462.78,463.81 L464.33,462.53 L465.89,461.21 L467.44,459.87 L469.00,458.50 L470.57,457.08 L472.14,455.59 L473.71,454.05 L475.29,452.46 L476.86,450.83 L478.43,449.18 L480.00,447.50 L481.67,445.68 L483.33,443.80 L485.00,441.88 L486.67,439.93 L488.33,437.96 L490.00,436.00 L491.67,433.99 L493.33,431.92 L495.00,429.83 L496.67,427.78 L498.33,425.82 L500.00,424.00 L501.61,422.39 L503.22,420.88 L504.83,419.44 L506.44,418.05 L508.06,416.69 L509.67,415.33 L511.28,413.94 L512.89,412.51 L514.50,411.00 L516.20,409.36 L517.90,407.69 L519.60,405.98 L521.30,404.22 L523.00,402.40 L524.70,400.50 L526.42,398.45 L528.14,396.26 L529.86,394.00 L531.58,391.73 L533.30,389.50 L534.86,387.52 L536.42,385.54 L537.97,383.56 L539.53,381.59 L541.09,379.61 L542.65,377.65 L544.21,375.68 L545.77,373.73 L547.33,371.78 L548.88,369.84 L550.44,367.91 L552.00,366.00 L553.50,364.17 L555.00,362.37 L556.50,360.58 L558.00,358.80 L559.50,357.03 L561.00,355.26 L562.50,353.49 L564.00,351.72 L565.50,349.93 L567.00,348.14 L568.50,346.33 L570.00,344.50 L571.55,342.58 L573.10,340.63 L574.65,338.65 L576.20,336.66 L577.75,334.66 L579.30,332.65 L580.85,330.65 L582.40,328.67 L583.95,326.70 L585.50,324.76 L587.05,322.86 L588.60,321.00 L590.23,319.07 L591.85,317.14 L593.48,315.22 L595.11,313.31 L596.74,311.43 L598.36,309.57 L599.99,307.76 L601.62,305.98 L603.25,304.26 L604.87,302.60 L606.50,301.00 L608.00,299.58 L609.50,298.22 L611.00,296.89 L612.50,295.60 L614.00,294.34 L615.50,293.10 L617.00,291.89 L618.50,290.69 L620.00,289.50 L621.58,288.26 L623.17,287.04 L624.75,285.83 L626.33,284.65 L627.92,283.48 L629.50,282.32 L631.08,281.18 L632.67,280.05 L634.25,278.92 L635.83,277.81 L637.42,276.70 L639.00,275.60 L640.60,274.47 L642.20,273.31 L643.80,272.14 L645.40,270.98 L647.00,269.84 L648.60,268.73 L650.20,267.68 L651.80,266.70 L653.40,265.80 L655.00,265.00 L656.60,264.28 L658.20,263.61 L659.80,262.99 L661.40,262.39 L663.00,261.83 L664.60,261.30 L666.20,260.78 L667.80,260.28 L669.40,259.79 L671.00,259.30 L672.55,258.83 L674.09,258.36 L675.64,257.90 L677.18,257.45 L678.73,257.01 L680.27,256.59 L681.82,256.18 L683.36,255.80 L684.91,255.44 L686.45,255.10 L688.00,254.80 L689.60,254.50 L691.20,254.21 L692.80,253.92 L694.40,253.64 L696.00,253.38 L697.60,253.14 L699.20,252.93 L700.80,252.75 L702.40,252.60 L704.00,252.50 L705.60,252.43 L707.20,252.37 L708.80,252.32 L710.40,252.27 L712.00,252.23 L713.60,252.20 L715.20,252.16 L716.80,252.11 L718.40,252.06 L720.00,252.00 L721.54,251.93 L723.08,251.84 L724.62,251.75 L726.15,251.64 L727.69,251.53 L729.23,251.41 L730.77,251.29 L732.31,251.16 L733.85,251.03 L735.38,250.90 L736.92,250.76 L738.46,250.63 L740.00,250.50 L741.54,250.37 L743.08,250.23 L744.62,250.09 L746.15,249.94 L747.69,249.79 L749.23,249.64 L750.77,249.49 L752.31,249.33 L753.85,249.18 L755.38,249.03 L756.92,248.88 L758.46,248.74 L760.00,248.60 L761.62,248.44 L763.25,248.27 L764.88,248.08 L766.50,247.91 L768.12,247.75 L769.75,247.62 L771.38,247.53 L773.00,247.50 L774.57,247.62 L776.14,247.95 L777.71,248.44 L779.29,249.04 L780.86,249.70 L782.43,250.37 L784.00,251.00 L785.58,251.63 L787.15,252.31 L788.73,253.03 L790.30,253.79 L791.88,254.57 L793.45,255.38 L795.02,256.19 L796.60,257.00 L798.12,257.78 L799.65,258.57 L801.17,259.37 L802.70,260.19 L804.23,261.04 L805.75,261.92 L807.27,262.83 L808.80,263.80 L810.40,264.89 L812.00,266.05 L813.60,267.28 L815.20,268.55 L816.80,269.86 L818.40,271.18 L820.00,272.50 L821.52,273.75 L823.04,275.02 L824.55,276.29 L826.07,277.58 L827.59,278.87 L829.11,280.18 L830.62,281.50 L832.14,282.84 L833.66,284.18 L835.18,285.54 L836.69,286.92 L838.21,288.31 L839.73,289.72 L841.25,291.14 L842.76,292.57 L844.28,294.03 L845.80,295.50 L847.31,296.99 L848.82,298.52 L850.34,300.08 L851.85,301.67 L853.36,303.28 L854.88,304.91 L856.39,306.56 L857.90,308.22 L859.41,309.88 L860.92,311.56 L862.44,313.23 L863.95,314.90 L865.46,316.57 L866.98,318.23 L868.49,319.87 L870.00,321.50 L871.54,323.15 L873.08,324.82 L874.62,326.49 L876.15,328.17 L877.69,329.84 L879.23,331.51 L880.77,333.18 L882.31,334.83 L883.85,336.47 L885.38,338.09 L886.92,339.69 L888.46,341.26 L890.00,342.80 L891.54,344.31 L893.08,345.79 L894.62,347.25 L896.15,348.68 L897.69,350.10 L899.23,351.51 L900.77,352.91 L902.31,354.30 L903.85,355.69 L905.38,357.08 L906.92,358.48 L908.46,359.88 L910.00,361.30" fill="none" stroke="#FFC000" stroke-width="5" stroke-linecap="round" stroke-linejoin="round"/>
<path d="M773.00,247.50 L774.50,248.23 L776.00,248.92 L777.50,249.60 L779.00,250.27 L780.50,250.94 L782.00,251.65 L783.50,252.39 L785.00,253.19 L786.50,254.05 L788.00,255.00 L789.60,256.14 L791.20,257.43 L792.80,258.84 L794.40,260.37 L796.00,262.00 L797.60,263.71 L799.20,265.48 L800.80,267.30 L802.40,269.14 L804.00,271.00 L805.60,272.86 L807.20,274.70 L808.75,276.48 L810.30,278.30 L811.85,280.15 L813.40,282.03 L814.95,283.95 L816.50,285.89 L818.05,287.87 L819.60,289.88 L821.15,291.93 L822.70,294.00 L824.25,296.11 L825.80,298.24 L827.35,300.41 L828.90,302.60 L830.53,304.97 L832.15,307.42 L833.78,309.95 L835.41,312.53 L837.04,315.16 L838.66,317.81 L840.29,320.48 L841.92,323.15 L843.55,325.80 L845.17,328.42 L846.80,331.00 L848.35,333.42 L849.90,335.83 L851.45,338.24 L853.00,340.63 L854.55,343.02 L856.10,345.41 L857.65,347.79 L859.20,350.18 L860.75,352.58 L862.30,354.97 L863.85,357.38 L865.40,359.80 L867.00,362.32 L868.60,364.88 L870.20,367.46 L871.80,370.05 L873.40,372.65 L875.00,375.23 L876.60,377.79 L878.20,380.32 L879.80,382.81 L881.40,385.24 L883.00,387.60 L884.55,389.82 L886.09,391.97 L887.64,394.08 L889.18,396.15 L890.73,398.19 L892.28,400.21 L893.82,402.22 L895.37,404.23 L896.92,406.25 L898.46,408.28 L900.01,410.35 L901.55,412.45 L903.10,414.60 L905.07,417.42 L907.03,420.31 L909.00,423.20" fill="none" stroke="#FFC000" stroke-width="4.6" stroke-linecap="round" stroke-linejoin="round" stroke-dasharray="13 21" stroke-dashoffset="30.2"/>
<path d="M773.00,247.50 L774.50,247.48 L776.00,247.46 L777.50,247.44 L779.00,247.42 L780.50,247.40 L782.00,247.38 L783.50,247.36 L785.00,247.33 L786.50,247.31 L788.00,247.29 L789.50,247.27 L791.00,247.26 L792.50,247.24 L794.00,247.23 L795.50,247.22 L797.00,247.21 L798.50,247.20 L800.00,247.20 L801.50,247.21 L803.00,247.23 L804.50,247.26 L806.00,247.31 L807.50,247.37 L809.00,247.44 L810.50,247.51 L812.00,247.60 L813.50,247.70 L815.00,247.80 L816.50,247.90 L818.00,248.02 L819.50,248.13 L821.00,248.26 L822.50,248.38 L824.00,248.50 L825.50,248.63 L827.00,248.75 L828.50,248.88 L830.00,249.00 L831.50,249.13 L833.00,249.26 L834.50,249.41 L836.00,249.56 L837.50,249.73 L839.00,249.90 L840.50,250.08 L842.00,250.26 L843.50,250.45 L845.00,250.64 L846.50,250.84 L848.00,251.04 L849.50,251.25 L851.00,251.46 L852.50,251.66 L854.00,251.87 L855.50,252.08 L857.00,252.29 L858.50,252.50 L860.00,252.70 L861.56,252.91 L863.11,253.13 L864.67,253.34 L866.22,253.56 L867.78,253.78 L869.33,254.00 L870.89,254.23 L872.44,254.46 L874.00,254.69 L875.56,254.92 L877.11,255.16 L878.67,255.40 L880.22,255.64 L881.78,255.89 L883.33,256.14 L884.89,256.39 L886.44,256.64 L888.00,256.90 L889.57,257.17 L891.14,257.44 L892.71,257.72 L894.29,258.01 L895.86,258.30 L897.43,258.60 L899.00,258.90 L900.57,259.20 L902.14,259.50 L903.71,259.80 L905.29,260.11 L906.86,260.41 L908.43,260.71 L910.00,261.00" fill="none" stroke="#FFC000" stroke-width="4.6" stroke-linecap="round" stroke-linejoin="round" stroke-dasharray="0 9.8" stroke-dashoffset="9.01"/>
<path d="M75.50,536.50 L77.00,536.48 L78.50,536.46 L80.00,536.44 L81.50,536.42 L83.00,536.40 L84.50,536.38 L86.00,536.36 L87.50,536.34 L89.00,536.32 L90.50,536.30 L92.00,536.28 L93.50,536.26 L95.00,536.24 L96.50,536.22 L98.00,536.20 L99.50,536.18 L101.00,536.17 L102.50,536.15 L104.00,536.13 L105.50,536.11 L107.00,536.09 L108.50,536.07 L110.00,536.05 L111.50,536.03 L113.00,536.01 L114.50,535.99 L116.00,535.98 L117.50,535.96 L119.00,535.94 L120.50,535.92 L122.00,535.90 L123.50,535.88 L125.00,535.86 L126.50,535.84 L128.00,535.82 L129.50,535.80 L131.00,535.78 L132.50,535.76 L134.00,535.74 L135.50,535.72 L137.00,535.70 L138.50,535.68 L140.00,535.66 L141.50,535.64 L143.00,535.62 L144.50,535.60 L146.00,535.57 L147.50,535.55 L149.00,535.53 L150.50,535.51 L152.00,535.49 L153.50,535.46 L155.00,535.44 L156.50,535.42 L158.00,535.39 L159.50,535.37 L161.00,535.35 L162.50,535.32 L164.00,535.30 L165.50,535.28 L167.00,535.25 L168.50,535.23 L170.00,535.20 L171.50,535.17 L173.00,535.15 L174.50,535.12 L176.00,535.10 L177.50,535.07 L179.00,535.04 L180.50,535.02 L182.00,534.99 L183.50,534.96 L185.00,534.93 L186.50,534.90 L188.00,534.88 L189.50,534.85 L191.00,534.82 L192.50,534.79 L194.00,534.76 L195.50,534.73 L197.00,534.70 L198.50,534.67 L200.00,534.64 L201.50,534.61 L203.00,534.58 L204.50,534.55 L206.00,534.52 L207.50,534.49 L209.00,534.45 L210.50,534.42 L212.00,534.39 L213.50,534.36 L215.00,534.32 L216.50,534.29 L218.00,534.26 L219.50,534.22 L221.00,534.19 L222.50,534.16 L224.00,534.12 L225.50,534.09 L227.00,534.05 L228.50,534.01 L230.00,533.98 L231.50,533.94 L233.00,533.91 L234.50,533.87 L236.00,533.83 L237.50,533.80 L239.00,533.76 L240.50,533.72 L242.00,533.68 L243.50,533.64 L245.00,533.60 L246.50,533.57 L248.00,533.53 L249.50,533.49 L251.00,533.45 L252.50,533.41 L254.00,533.37 L255.50,533.32 L257.00,533.28 L258.50,533.24 L260.00,533.20 L261.51,533.16 L263.02,533.11 L264.53,533.07 L266.04,533.03 L267.55,532.98 L269.06,532.94 L270.57,532.89 L272.08,532.85 L273.58,532.80 L275.09,532.76 L276.60,532.71 L278.11,532.66 L279.62,532.62 L281.13,532.57 L282.64,532.52 L284.15,532.47 L285.66,532.42 L287.17,532.37 L288.68,532.32 L290.19,532.27 L291.70,532.22 L293.21,532.17 L294.72,532.11 L296.23,532.06 L297.74,532.01 L299.25,531.95 L300.75,531.90 L302.26,531.84 L303.77,531.78 L305.28,531.73 L306.79,531.67 L308.30,531.61 L309.81,531.55 L311.32,531.49 L312.83,531.43 L314.34,531.37 L315.85,531.31 L317.36,531.24 L318.87,531.18 L320.38,531.11 L321.89,531.05 L323.40,530.98 L324.91,530.92 L326.42,530.85 L327.92,530.78 L329.43,530.71 L330.94,530.64 L332.45,530.57 L333.96,530.50 L335.47,530.42 L336.98,530.35 L338.49,530.28 L340.00,530.20 L341.50,530.12 L343.00,530.04 L344.50,529.96 L346.00,529.88 L347.50,529.79 L349.00,529.70 L350.50,529.61 L352.00,529.52 L353.50,529.43 L355.00,529.33 L356.50,529.23 L358.00,529.13 L359.50,529.03 L361.00,528.93 L362.50,528.82 L364.00,528.71 L365.50,528.60 L367.00,528.49 L368.50,528.38 L370.00,528.27 L371.50,528.16 L373.00,528.04 L374.50,527.92 L376.00,527.80 L377.50,527.69 L379.00,527.57 L380.50,527.44 L382.00,527.32 L383.50,527.20 L385.00,527.07 L386.50,526.95 L388.00,526.82 L389.50,526.70 L391.00,526.57 L392.50,526.44 L394.00,526.32 L395.50,526.19 L397.00,526.06 L398.50,525.93 L400.00,525.80 L401.50,525.67 L403.00,525.54 L404.50,525.40 L406.00,525.26 L407.50,525.12 L409.00,524.97 L410.50,524.83 L412.00,524.68 L413.50,524.53 L415.00,524.38 L416.50,524.22 L418.00,524.07 L419.50,523.91 L421.00,523.75 L422.50,523.59 L424.00,523.43 L425.50,523.26 L427.00,523.10 L428.50,522.94 L430.00,522.77 L431.50,522.61 L433.00,522.44 L434.50,522.27 L436.00,522.11 L437.50,521.94 L439.00,521.77 L440.50,521.61 L442.00,521.44 L443.50,521.27 L445.00,521.11 L446.50,520.94 L448.00,520.78 L449.50,520.61 L451.00,520.45 L452.50,520.29 L454.00,520.13 L455.50,519.97 L457.00,519.81 L458.50,519.65 L460.00,519.50 L461.52,519.34 L463.04,519.19 L464.57,519.04 L466.09,518.89 L467.61,518.74 L469.13,518.59 L470.65,518.44 L472.17,518.29 L473.70,518.15 L475.22,518.00 L476.74,517.86 L478.26,517.71 L479.78,517.57 L481.30,517.42 L482.83,517.28 L484.35,517.14 L485.87,516.99 L487.39,516.85 L488.91,516.71 L490.43,516.56 L491.96,516.42 L493.48,516.28 L495.00,516.13 L496.52,515.99 L498.04,515.84 L499.57,515.70 L501.09,515.55 L502.61,515.40 L504.13,515.25 L505.65,515.10 L507.17,514.95 L508.70,514.80 L510.22,514.65 L511.74,514.49 L513.26,514.34 L514.78,514.18 L516.30,514.02 L517.83,513.86 L519.35,513.70 L520.87,513.53 L522.39,513.37 L523.91,513.20 L525.43,513.03 L526.96,512.85 L528.48,512.68 L530.00,512.50 L531.52,512.32 L533.04,512.13 L534.57,511.95 L536.09,511.75 L537.61,511.56 L539.13,511.36 L540.65,511.16 L542.17,510.96 L543.70,510.75 L545.22,510.54 L546.74,510.33 L548.26,510.12 L549.78,509.90 L551.30,509.68 L552.83,509.46 L554.35,509.24 L555.87,509.02 L557.39,508.80 L558.91,508.57 L560.43,508.34 L561.96,508.12 L563.48,507.89 L565.00,507.66 L566.52,507.43 L568.04,507.20 L569.57,506.97 L571.09,506.74 L572.61,506.51 L574.13,506.27 L575.65,506.04 L577.17,505.81 L578.70,505.58 L580.22,505.36 L581.74,505.13 L583.26,504.90 L584.78,504.67 L586.30,504.45 L587.83,504.22 L589.35,504.00 L590.87,503.78 L592.39,503.56 L593.91,503.35 L595.43,503.13 L596.96,502.92 L598.48,502.71 L600.00,502.50 L601.52,502.29 L603.03,502.09 L604.55,501.88 L606.06,501.67 L607.58,501.47 L609.09,501.26 L610.61,501.05 L612.12,500.85 L613.64,500.64 L615.15,500.43 L616.67,500.23 L618.18,500.02 L619.70,499.82 L621.21,499.61 L622.73,499.41 L624.24,499.21 L625.76,499.01 L627.27,498.81 L628.79,498.61 L630.30,498.41 L631.82,498.21 L633.33,498.02 L634.85,497.83 L636.36,497.63 L637.88,497.44 L639.39,497.26 L640.91,497.07 L642.42,496.89 L643.94,496.70 L645.45,496.53 L646.97,496.35 L648.48,496.17 L650.00,496.00 L651.52,495.83 L653.03,495.66 L654.55,495.48 L656.06,495.31 L657.58,495.14 L659.09,494.97 L660.61,494.79 L662.12,494.62 L663.64,494.45 L665.15,494.28 L666.67,494.11 L668.18,493.94 L669.70,493.78 L671.21,493.61 L672.73,493.45 L674.24,493.29 L675.76,493.13 L677.27,492.97 L678.79,492.81 L680.30,492.66 L681.82,492.51 L683.33,492.37 L684.85,492.22 L686.36,492.08 L687.88,491.95 L689.39,491.81 L690.91,491.68 L692.42,491.56 L693.94,491.44 L695.45,491.32 L696.97,491.21 L698.48,491.10 L700.00,491.00 L701.54,490.90 L703.08,490.80 L704.62,490.71 L706.15,490.61 L707.69,490.52 L709.23,490.43 L710.77,490.34 L712.31,490.26 L713.85,490.17 L715.38,490.09 L716.92,490.01 L718.46,489.93 L720.00,489.85 L721.54,489.78 L723.08,489.70 L724.62,489.63 L726.15,489.56 L727.69,489.49 L729.23,489.43 L730.77,489.36 L732.31,489.30 L733.85,489.24 L735.38,489.17 L736.92,489.11 L738.46,489.06 L740.00,489.00 L741.54,488.94 L743.08,488.88 L744.62,488.82 L746.15,488.76 L747.69,488.70 L749.23,488.64 L750.77,488.58 L752.31,488.53 L753.85,488.49 L755.38,488.45 L756.92,488.42 L758.46,488.41 L760.00,488.40 L761.54,488.40 L763.08,488.40 L764.62,488.40 L766.15,488.40 L767.69,488.40 L769.23,488.40 L770.77,488.40 L772.31,488.40 L773.85,488.40 L775.38,488.40 L776.92,488.40 L778.46,488.40 L780.00,488.40 L781.54,488.40 L783.08,488.40 L784.62,488.40 L786.15,488.40 L787.69,488.40 L789.23,488.40 L790.77,488.40 L792.31,488.40 L793.85,488.40 L795.38,488.40 L796.92,488.40 L798.46,488.40 L800.00,488.40 L801.56,488.40 L803.11,488.41 L804.67,488.42 L806.22,488.44 L807.78,488.46 L809.33,488.48 L810.89,488.51 L812.44,488.54 L814.00,488.57 L815.56,488.61 L817.11,488.65 L818.67,488.69 L820.22,488.74 L821.78,488.79 L823.33,488.84 L824.89,488.89 L826.44,488.94 L828.00,489.00 L829.57,489.07 L831.14,489.17 L832.71,489.30 L834.29,489.45 L835.86,489.61 L837.43,489.79 L839.00,489.99 L840.57,490.19 L842.14,490.40 L843.71,490.60 L845.29,490.81 L846.86,491.02 L848.43,491.21 L850.00,491.40 L851.54,491.58 L853.08,491.75 L854.62,491.93 L856.15,492.11 L857.69,492.29 L859.23,492.48 L860.77,492.66 L862.31,492.85 L863.85,493.03 L865.38,493.22 L866.92,493.41 L868.46,493.61 L870.00,493.80 L871.54,494.00 L873.08,494.20 L874.62,494.40 L876.15,494.60 L877.69,494.81 L879.23,495.01 L880.77,495.22 L882.31,495.43 L883.85,495.64 L885.38,495.86 L886.92,496.07 L888.46,496.29 L890.00,496.50 L891.54,496.72 L893.08,496.93 L894.62,497.16 L896.15,497.38 L897.69,497.60 L899.23,497.82 L900.77,498.05 L902.31,498.28 L903.85,498.50 L905.38,498.73 L906.92,498.95 L908.46,499.18 L910.00,499.40" fill="none" stroke="#FF0000" stroke-width="4.9" stroke-linecap="round" stroke-linejoin="round"/>
<path d="M828.00,489.00 L829.57,489.20 L831.14,489.38 L832.71,489.57 L834.29,489.75 L835.86,489.93 L837.43,490.11 L839.00,490.29 L840.57,490.48 L842.14,490.67 L843.71,490.87 L845.29,491.08 L846.86,491.31 L848.43,491.55 L850.00,491.80 L851.58,492.08 L853.17,492.39 L854.75,492.73 L856.33,493.10 L857.92,493.48 L859.50,493.87 L861.08,494.28 L862.67,494.69 L864.25,495.10 L865.83,495.51 L867.42,495.91 L869.00,496.30 L870.50,496.66 L872.00,497.03 L873.50,497.39 L875.00,497.75 L876.50,498.12 L878.00,498.49 L879.50,498.86 L881.00,499.24 L882.50,499.62 L884.00,500.00 L885.50,500.39 L887.00,500.78 L888.50,501.18 L890.00,501.58 L891.50,501.98 L893.00,502.39 L894.50,502.79 L896.00,503.21 L897.50,503.63 L899.00,504.05 L900.50,504.47 L902.00,504.90 L903.60,505.37 L905.20,505.85 L906.80,506.33 L908.40,506.82 L910.00,507.30" fill="none" stroke="#FF0000" stroke-width="4.8" stroke-linecap="round" stroke-linejoin="round" stroke-dasharray="12 22" stroke-dashoffset="24.4"/>
<path d="M818.00,487.30 L819.50,487.31 L821.00,487.32 L822.50,487.33 L824.00,487.34 L825.50,487.35 L827.00,487.36 L828.50,487.37 L830.00,487.38 L831.50,487.39 L833.00,487.40 L834.50,487.41 L836.00,487.42 L837.50,487.43 L839.00,487.44 L840.50,487.45 L842.00,487.46 L843.50,487.47 L845.00,487.48 L846.50,487.49 L848.00,487.50 L849.50,487.51 L851.00,487.53 L852.50,487.54 L854.00,487.55 L855.50,487.56 L857.00,487.57 L858.50,487.59 L860.00,487.60 L861.52,487.61 L863.03,487.63 L864.55,487.64 L866.06,487.66 L867.58,487.67 L869.09,487.69 L870.61,487.71 L872.12,487.72 L873.64,487.74 L875.15,487.76 L876.67,487.78 L878.18,487.80 L879.70,487.81 L881.21,487.83 L882.73,487.85 L884.24,487.87 L885.76,487.89 L887.27,487.91 L888.79,487.93 L890.30,487.95 L891.82,487.97 L893.33,487.99 L894.85,488.01 L896.36,488.03 L897.88,488.05 L899.39,488.07 L900.91,488.09 L902.42,488.11 L903.94,488.13 L905.45,488.14 L906.97,488.16 L908.48,488.18 L910.00,488.20" fill="none" stroke="#FF0000" stroke-width="4.8" stroke-linecap="round" stroke-linejoin="round" stroke-dasharray="0 9.65" stroke-dashoffset="4.5"/>
<circle cx="76.0" cy="531.1" r="4.7" fill="#FFC000" stroke="#1a1a1a" stroke-width="1.2"/>
<circle cx="85.2" cy="531.7" r="4.7" fill="#FFC000" stroke="#1a1a1a" stroke-width="1.2"/>
<circle cx="94.3" cy="530.4" r="4.7" fill="#FFC000" stroke="#1a1a1a" stroke-width="1.2"/>
<circle cx="103.5" cy="531.1" r="4.7" fill="#FFC000" stroke="#1a1a1a" stroke-width="1.2"/>
<circle cx="112.7" cy="528.2" r="4.7" fill="#FFC000" stroke="#1a1a1a" stroke-width="1.2"/>
<circle cx="121.8" cy="527.3" r="4.7" fill="#FFC000" stroke="#1a1a1a" stroke-width="1.2"/>
<circle cx="131.0" cy="525.5" r="4.7" fill="#FFC000" stroke="#1a1a1a" stroke-width="1.2"/>
<circle cx="140.2" cy="523.5" r="4.7" fill="#FFC000" stroke="#1a1a1a" stroke-width="1.2"/>
<circle cx="149.3" cy="522.8" r="4.7" fill="#FFC000" stroke="#1a1a1a" stroke-width="1.2"/>
<circle cx="158.5" cy="522.2" r="4.7" fill="#FFC000" stroke="#1a1a1a" stroke-width="1.2"/>
<circle cx="167.6" cy="522.4" r="4.7" fill="#FFC000" stroke="#1a1a1a" stroke-width="1.2"/>
<circle cx="176.8" cy="522.6" r="4.7" fill="#FFC000" stroke="#1a1a1a" stroke-width="1.2"/>
<circle cx="186.0" cy="522.6" r="4.7" fill="#FFC000" stroke="#1a1a1a" stroke-width="1.2"/>
<circle cx="195.1" cy="520.8" r="4.7" fill="#FFC000" stroke="#1a1a1a" stroke-width="1.2"/>
<circle cx="204.3" cy="523.5" r="4.7" fill="#FFC000" stroke="#1a1a1a" stroke-width="1.2"/>
<circle cx="213.5" cy="523.5" r="4.7" fill="#FFC000" stroke="#1a1a1a" stroke-width="1.2"/>
<circle cx="222.6" cy="524.6" r="4.7" fill="#FFC000" stroke="#1a1a1a" stroke-width="1.2"/>
<circle cx="231.8" cy="520.8" r="4.7" fill="#FFC000" stroke="#1a1a1a" stroke-width="1.2"/>
<circle cx="241.0" cy="519.3" r="4.7" fill="#FFC000" stroke="#1a1a1a" stroke-width="1.2"/>
<circle cx="250.1" cy="519.3" r="4.7" fill="#FFC000" stroke="#1a1a1a" stroke-width="1.2"/>
<circle cx="259.3" cy="518.2" r="4.7" fill="#FFC000" stroke="#1a1a1a" stroke-width="1.2"/>
<circle cx="268.5" cy="518.4" r="4.7" fill="#FFC000" stroke="#1a1a1a" stroke-width="1.2"/>
<circle cx="277.6" cy="518.4" r="4.7" fill="#FFC000" stroke="#1a1a1a" stroke-width="1.2"/>
<circle cx="286.8" cy="518.4" r="4.7" fill="#FFC000" stroke="#1a1a1a" stroke-width="1.2"/>
<circle cx="296.0" cy="516.8" r="4.7" fill="#FFC000" stroke="#1a1a1a" stroke-width="1.2"/>
<circle cx="305.1" cy="514.6" r="4.7" fill="#FFC000" stroke="#1a1a1a" stroke-width="1.2"/>
<circle cx="314.3" cy="513.9" r="4.7" fill="#FFC000" stroke="#1a1a1a" stroke-width="1.2"/>
<circle cx="323.5" cy="512.8" r="4.7" fill="#FFC000" stroke="#1a1a1a" stroke-width="1.2"/>
<circle cx="332.6" cy="511.5" r="4.7" fill="#FFC000" stroke="#1a1a1a" stroke-width="1.2"/>
<circle cx="341.8" cy="508.4" r="4.7" fill="#FFC000" stroke="#1a1a1a" stroke-width="1.2"/>
<circle cx="350.9" cy="507.2" r="4.7" fill="#FFC000" stroke="#1a1a1a" stroke-width="1.2"/>
<circle cx="360.1" cy="504.6" r="4.7" fill="#FFC000" stroke="#1a1a1a" stroke-width="1.2"/>
<circle cx="369.3" cy="502.6" r="4.7" fill="#FFC000" stroke="#1a1a1a" stroke-width="1.2"/>
<circle cx="378.4" cy="497.7" r="4.7" fill="#FFC000" stroke="#1a1a1a" stroke-width="1.2"/>
<circle cx="387.6" cy="495.2" r="4.7" fill="#FFC000" stroke="#1a1a1a" stroke-width="1.2"/>
<circle cx="396.8" cy="490.3" r="4.7" fill="#FFC000" stroke="#1a1a1a" stroke-width="1.2"/>
<circle cx="405.9" cy="488.3" r="4.7" fill="#FFC000" stroke="#1a1a1a" stroke-width="1.2"/>
<circle cx="415.1" cy="483.9" r="4.7" fill="#FFC000" stroke="#1a1a1a" stroke-width="1.2"/>
<circle cx="424.3" cy="481.6" r="4.7" fill="#FFC000" stroke="#1a1a1a" stroke-width="1.2"/>
<circle cx="433.4" cy="478.7" r="4.7" fill="#FFC000" stroke="#1a1a1a" stroke-width="1.2"/>
<circle cx="442.6" cy="473.6" r="4.7" fill="#FFC000" stroke="#1a1a1a" stroke-width="1.2"/>
<circle cx="451.8" cy="468.3" r="4.7" fill="#FFC000" stroke="#1a1a1a" stroke-width="1.2"/>
<circle cx="460.9" cy="463.6" r="4.7" fill="#FFC000" stroke="#1a1a1a" stroke-width="1.2"/>
<circle cx="470.1" cy="458.5" r="4.7" fill="#FFC000" stroke="#1a1a1a" stroke-width="1.2"/>
<circle cx="479.3" cy="449.8" r="4.7" fill="#FFC000" stroke="#1a1a1a" stroke-width="1.2"/>
<circle cx="488.4" cy="437.1" r="4.7" fill="#FFC000" stroke="#1a1a1a" stroke-width="1.2"/>
<circle cx="497.6" cy="424.8" r="4.7" fill="#FFC000" stroke="#1a1a1a" stroke-width="1.2"/>
<circle cx="506.7" cy="421.0" r="4.7" fill="#FFC000" stroke="#1a1a1a" stroke-width="1.2"/>
<circle cx="515.9" cy="413.3" r="4.7" fill="#FFC000" stroke="#1a1a1a" stroke-width="1.2"/>
<circle cx="525.1" cy="401.7" r="4.7" fill="#FFC000" stroke="#1a1a1a" stroke-width="1.2"/>
<circle cx="534.2" cy="391.2" r="4.7" fill="#FFC000" stroke="#1a1a1a" stroke-width="1.2"/>
<circle cx="543.4" cy="381.8" r="4.7" fill="#FFC000" stroke="#1a1a1a" stroke-width="1.2"/>
<circle cx="552.6" cy="363.8" r="4.7" fill="#FFC000" stroke="#1a1a1a" stroke-width="1.2"/>
<circle cx="561.7" cy="355.1" r="4.7" fill="#FFC000" stroke="#1a1a1a" stroke-width="1.2"/>
<circle cx="570.9" cy="344.7" r="4.7" fill="#FFC000" stroke="#1a1a1a" stroke-width="1.2"/>
<circle cx="580.1" cy="332.2" r="4.7" fill="#FFC000" stroke="#1a1a1a" stroke-width="1.2"/>
<circle cx="589.2" cy="319.5" r="4.7" fill="#FFC000" stroke="#1a1a1a" stroke-width="1.2"/>
<circle cx="598.4" cy="310.1" r="4.7" fill="#FFC000" stroke="#1a1a1a" stroke-width="1.2"/>
<circle cx="607.6" cy="299.2" r="4.7" fill="#FFC000" stroke="#1a1a1a" stroke-width="1.2"/>
<circle cx="616.7" cy="296.1" r="4.7" fill="#FFC000" stroke="#1a1a1a" stroke-width="1.2"/>
<circle cx="625.9" cy="287.4" r="4.7" fill="#FFC000" stroke="#1a1a1a" stroke-width="1.2"/>
<circle cx="635.1" cy="282.5" r="4.7" fill="#FFC000" stroke="#1a1a1a" stroke-width="1.2"/>
<circle cx="644.2" cy="276.9" r="4.7" fill="#FFC000" stroke="#1a1a1a" stroke-width="1.2"/>
<circle cx="653.4" cy="272.0" r="4.7" fill="#FFC000" stroke="#1a1a1a" stroke-width="1.2"/>
<circle cx="662.5" cy="268.3" r="4.7" fill="#FFC000" stroke="#1a1a1a" stroke-width="1.2"/>
<circle cx="671.7" cy="270.5" r="4.7" fill="#FFC000" stroke="#1a1a1a" stroke-width="1.2"/>
<circle cx="680.9" cy="265.1" r="4.7" fill="#FFC000" stroke="#1a1a1a" stroke-width="1.2"/>
<circle cx="690.0" cy="256.5" r="4.7" fill="#FFC000" stroke="#1a1a1a" stroke-width="1.2"/>
<circle cx="699.2" cy="256.5" r="4.7" fill="#FFC000" stroke="#1a1a1a" stroke-width="1.2"/>
<circle cx="708.4" cy="253.6" r="4.7" fill="#FFC000" stroke="#1a1a1a" stroke-width="1.2"/>
<circle cx="717.5" cy="252.4" r="4.7" fill="#FFC000" stroke="#1a1a1a" stroke-width="1.2"/>
<circle cx="726.7" cy="262.7" r="4.7" fill="#FFC000" stroke="#1a1a1a" stroke-width="1.2"/>
<path d="M76.0,502.6 L81.0,508.4 L76.0,514.2 L71.0,508.4 Z" fill="#808080" stroke="#111" stroke-width="0.9"/>
<path d="M85.2,502.6 L90.2,508.4 L85.2,514.2 L80.2,508.4 Z" fill="#808080" stroke="#111" stroke-width="0.9"/>
<path d="M94.3,502.3 L99.3,508.1 L94.3,513.9 L89.3,508.1 Z" fill="#808080" stroke="#111" stroke-width="0.9"/>
<path d="M103.5,502.3 L108.5,508.1 L103.5,513.9 L98.5,508.1 Z" fill="#808080" stroke="#111" stroke-width="0.9"/>
<path d="M112.7,502.3 L117.7,508.1 L112.7,513.9 L107.7,508.1 Z" fill="#808080" stroke="#111" stroke-width="0.9"/>
<path d="M121.8,502.1 L126.8,507.9 L121.8,513.7 L116.8,507.9 Z" fill="#808080" stroke="#111" stroke-width="0.9"/>
<path d="M131.0,502.1 L136.0,507.9 L131.0,513.7 L126.0,507.9 Z" fill="#808080" stroke="#111" stroke-width="0.9"/>
<path d="M140.2,501.9 L145.2,507.7 L140.2,513.5 L135.2,507.7 Z" fill="#808080" stroke="#111" stroke-width="0.9"/>
<path d="M149.3,501.9 L154.3,507.7 L149.3,513.5 L144.3,507.7 Z" fill="#808080" stroke="#111" stroke-width="0.9"/>
<path d="M158.5,501.7 L163.5,507.5 L158.5,513.3 L153.5,507.5 Z" fill="#808080" stroke="#111" stroke-width="0.9"/>
<path d="M167.6,501.4 L172.6,507.2 L167.6,513.0 L162.6,507.2 Z" fill="#808080" stroke="#111" stroke-width="0.9"/>
<path d="M176.8,501.2 L181.8,507.0 L176.8,512.8 L171.8,507.0 Z" fill="#808080" stroke="#111" stroke-width="0.9"/>
<path d="M186.0,501.0 L191.0,506.8 L186.0,512.6 L181.0,506.8 Z" fill="#808080" stroke="#111" stroke-width="0.9"/>
<path d="M195.1,500.8 L200.1,506.6 L195.1,512.4 L190.1,506.6 Z" fill="#808080" stroke="#111" stroke-width="0.9"/>
<path d="M204.3,500.6 L209.3,506.4 L204.3,512.2 L199.3,506.4 Z" fill="#808080" stroke="#111" stroke-width="0.9"/>
<path d="M213.5,500.3 L218.5,506.1 L213.5,511.9 L208.5,506.1 Z" fill="#808080" stroke="#111" stroke-width="0.9"/>
<path d="M222.6,500.1 L227.6,505.9 L222.6,511.7 L217.6,505.9 Z" fill="#808080" stroke="#111" stroke-width="0.9"/>
<path d="M231.8,499.9 L236.8,505.7 L231.8,511.5 L226.8,505.7 Z" fill="#808080" stroke="#111" stroke-width="0.9"/>
<path d="M241.0,499.7 L246.0,505.5 L241.0,511.3 L236.0,505.5 Z" fill="#808080" stroke="#111" stroke-width="0.9"/>
<path d="M250.1,499.4 L255.1,505.2 L250.1,511.0 L245.1,505.2 Z" fill="#808080" stroke="#111" stroke-width="0.9"/>
<path d="M259.3,499.0 L264.3,504.8 L259.3,510.6 L254.3,504.8 Z" fill="#808080" stroke="#111" stroke-width="0.9"/>
<path d="M268.5,498.8 L273.5,504.6 L268.5,510.4 L263.5,504.6 Z" fill="#808080" stroke="#111" stroke-width="0.9"/>
<path d="M277.6,498.5 L282.6,504.3 L277.6,510.1 L272.6,504.3 Z" fill="#808080" stroke="#111" stroke-width="0.9"/>
<path d="M286.8,498.3 L291.8,504.1 L286.8,509.9 L281.8,504.1 Z" fill="#808080" stroke="#111" stroke-width="0.9"/>
<path d="M296.0,497.9 L301.0,503.7 L296.0,509.5 L291.0,503.7 Z" fill="#808080" stroke="#111" stroke-width="0.9"/>
<path d="M305.1,497.7 L310.1,503.5 L305.1,509.3 L300.1,503.5 Z" fill="#808080" stroke="#111" stroke-width="0.9"/>
<path d="M314.3,497.4 L319.3,503.2 L314.3,509.0 L309.3,503.2 Z" fill="#808080" stroke="#111" stroke-width="0.9"/>
<path d="M323.5,497.2 L328.5,503.0 L323.5,508.8 L318.5,503.0 Z" fill="#808080" stroke="#111" stroke-width="0.9"/>
<path d="M332.6,497.0 L337.6,502.8 L332.6,508.6 L327.6,502.8 Z" fill="#808080" stroke="#111" stroke-width="0.9"/>
<path d="M341.8,496.8 L346.8,502.6 L341.8,508.4 L336.8,502.6 Z" fill="#808080" stroke="#111" stroke-width="0.9"/>
<path d="M350.9,496.3 L355.9,502.1 L350.9,507.9 L345.9,502.1 Z" fill="#808080" stroke="#111" stroke-width="0.9"/>
<path d="M360.1,495.9 L365.1,501.7 L360.1,507.5 L355.1,501.7 Z" fill="#808080" stroke="#111" stroke-width="0.9"/>
<path d="M369.3,495.7 L374.3,501.5 L369.3,507.3 L364.3,501.5 Z" fill="#808080" stroke="#111" stroke-width="0.9"/>
<path d="M378.4,495.0 L383.4,500.8 L378.4,506.6 L373.4,500.8 Z" fill="#808080" stroke="#111" stroke-width="0.9"/>
<path d="M387.6,494.8 L392.6,500.6 L387.6,506.4 L382.6,500.6 Z" fill="#808080" stroke="#111" stroke-width="0.9"/>
<path d="M396.8,493.6 L401.8,499.4 L396.8,505.2 L391.8,499.4 Z" fill="#808080" stroke="#111" stroke-width="0.9"/>
<path d="M405.9,493.0 L410.9,498.8 L405.9,504.6 L400.9,498.8 Z" fill="#808080" stroke="#111" stroke-width="0.9"/>
<path d="M415.1,492.3 L420.1,498.1 L415.1,503.9 L410.1,498.1 Z" fill="#808080" stroke="#111" stroke-width="0.9"/>
<path d="M424.3,491.0 L429.3,496.8 L424.3,502.6 L419.3,496.8 Z" fill="#808080" stroke="#111" stroke-width="0.9"/>
<path d="M433.4,490.3 L438.4,496.1 L433.4,501.9 L428.4,496.1 Z" fill="#808080" stroke="#111" stroke-width="0.9"/>
<path d="M442.6,489.9 L447.6,495.7 L442.6,501.5 L437.6,495.7 Z" fill="#808080" stroke="#111" stroke-width="0.9"/>
<path d="M451.8,488.7 L456.8,494.5 L451.8,500.3 L446.8,494.5 Z" fill="#808080" stroke="#111" stroke-width="0.9"/>
<path d="M460.9,486.7 L465.9,492.5 L460.9,498.3 L455.9,492.5 Z" fill="#808080" stroke="#111" stroke-width="0.9"/>
<path d="M470.1,485.4 L475.1,491.2 L470.1,497.0 L465.1,491.2 Z" fill="#808080" stroke="#111" stroke-width="0.9"/>
<path d="M479.3,484.1 L484.3,489.9 L479.3,495.7 L474.3,489.9 Z" fill="#808080" stroke="#111" stroke-width="0.9"/>
<path d="M488.4,480.5 L493.4,486.3 L488.4,492.1 L483.4,486.3 Z" fill="#808080" stroke="#111" stroke-width="0.9"/>
<path d="M497.6,478.9 L502.6,484.7 L497.6,490.5 L492.6,484.7 Z" fill="#808080" stroke="#111" stroke-width="0.9"/>
<path d="M506.7,475.8 L511.7,481.6 L506.7,487.4 L501.7,481.6 Z" fill="#808080" stroke="#111" stroke-width="0.9"/>
<path d="M515.9,472.9 L520.9,478.7 L515.9,484.5 L510.9,478.7 Z" fill="#808080" stroke="#111" stroke-width="0.9"/>
<path d="M525.1,470.7 L530.1,476.5 L525.1,482.3 L520.1,476.5 Z" fill="#808080" stroke="#111" stroke-width="0.9"/>
<path d="M534.2,466.7 L539.2,472.5 L534.2,478.3 L529.2,472.5 Z" fill="#808080" stroke="#111" stroke-width="0.9"/>
<path d="M543.4,461.6 L548.4,467.4 L543.4,473.2 L538.4,467.4 Z" fill="#808080" stroke="#111" stroke-width="0.9"/>
<path d="M552.6,456.9 L557.6,462.7 L552.6,468.5 L547.6,462.7 Z" fill="#808080" stroke="#111" stroke-width="0.9"/>
<path d="M561.7,451.1 L566.7,456.9 L561.7,462.7 L556.7,456.9 Z" fill="#808080" stroke="#111" stroke-width="0.9"/>
<path d="M570.9,445.1 L575.9,450.9 L570.9,456.7 L565.9,450.9 Z" fill="#808080" stroke="#111" stroke-width="0.9"/>
<path d="M580.1,440.9 L585.1,446.7 L580.1,452.5 L575.1,446.7 Z" fill="#808080" stroke="#111" stroke-width="0.9"/>
<path d="M589.2,433.7 L594.2,439.5 L589.2,445.3 L584.2,439.5 Z" fill="#808080" stroke="#111" stroke-width="0.9"/>
<path d="M598.4,427.3 L603.4,433.1 L598.4,438.9 L593.4,433.1 Z" fill="#808080" stroke="#111" stroke-width="0.9"/>
<path d="M607.6,421.5 L612.6,427.3 L607.6,433.1 L602.6,427.3 Z" fill="#808080" stroke="#111" stroke-width="0.9"/>
<path d="M616.7,414.1 L621.7,419.9 L616.7,425.7 L611.7,419.9 Z" fill="#808080" stroke="#111" stroke-width="0.9"/>
<path d="M625.9,408.3 L630.9,414.1 L625.9,419.9 L620.9,414.1 Z" fill="#808080" stroke="#111" stroke-width="0.9"/>
<path d="M635.1,403.7 L640.1,409.5 L635.1,415.3 L630.1,409.5 Z" fill="#808080" stroke="#111" stroke-width="0.9"/>
<path d="M644.2,396.5 L649.2,402.3 L644.2,408.1 L639.2,402.3 Z" fill="#808080" stroke="#111" stroke-width="0.9"/>
<path d="M653.4,388.1 L658.4,393.9 L653.4,399.7 L648.4,393.9 Z" fill="#808080" stroke="#111" stroke-width="0.9"/>
<path d="M662.5,379.8 L667.5,385.6 L662.5,391.4 L657.5,385.6 Z" fill="#808080" stroke="#111" stroke-width="0.9"/>
<path d="M671.7,371.1 L676.7,376.9 L671.7,382.7 L666.7,376.9 Z" fill="#808080" stroke="#111" stroke-width="0.9"/>
<path d="M680.9,361.6 L685.9,367.4 L680.9,373.2 L675.9,367.4 Z" fill="#808080" stroke="#111" stroke-width="0.9"/>
<path d="M690.0,354.7 L695.0,360.5 L690.0,366.3 L685.0,360.5 Z" fill="#808080" stroke="#111" stroke-width="0.9"/>
<path d="M699.2,346.9 L704.2,352.7 L699.2,358.5 L694.2,352.7 Z" fill="#808080" stroke="#111" stroke-width="0.9"/>
<path d="M708.4,337.3 L713.4,343.1 L708.4,348.9 L703.4,343.1 Z" fill="#808080" stroke="#111" stroke-width="0.9"/>
<path d="M717.5,327.5 L722.5,333.3 L717.5,339.1 L712.5,333.3 Z" fill="#808080" stroke="#111" stroke-width="0.9"/>
<path d="M726.7,317.7 L731.7,323.5 L726.7,329.3 L721.7,323.5 Z" fill="#808080" stroke="#111" stroke-width="0.9"/>
<path d="M76.0,531.9 L81.0,542.3 L71.0,542.3 Z" fill="#FF0000" stroke="#111" stroke-width="0.8"/>
<path d="M85.2,531.9 L90.2,542.3 L80.2,542.3 Z" fill="#FF0000" stroke="#111" stroke-width="0.8"/>
<path d="M94.3,531.9 L99.3,542.3 L89.3,542.3 Z" fill="#FF0000" stroke="#111" stroke-width="0.8"/>
<path d="M103.5,531.9 L108.5,542.3 L98.5,542.3 Z" fill="#FF0000" stroke="#111" stroke-width="0.8"/>
<path d="M112.7,531.9 L117.7,542.3 L107.7,542.3 Z" fill="#FF0000" stroke="#111" stroke-width="0.8"/>
<path d="M121.8,531.9 L126.8,542.3 L116.8,542.3 Z" fill="#FF0000" stroke="#111" stroke-width="0.8"/>
<path d="M131.0,531.2 L136.0,541.6 L126.0,541.6 Z" fill="#FF0000" stroke="#111" stroke-width="0.8"/>
<path d="M140.2,531.2 L145.2,541.6 L135.2,541.6 Z" fill="#FF0000" stroke="#111" stroke-width="0.8"/>
<path d="M149.3,531.0 L154.3,541.4 L144.3,541.4 Z" fill="#FF0000" stroke="#111" stroke-width="0.8"/>
<path d="M158.5,530.8 L163.5,541.2 L153.5,541.2 Z" fill="#FF0000" stroke="#111" stroke-width="0.8"/>
<path d="M167.6,530.8 L172.6,541.2 L162.6,541.2 Z" fill="#FF0000" stroke="#111" stroke-width="0.8"/>
<path d="M176.8,530.3 L181.8,540.7 L171.8,540.7 Z" fill="#FF0000" stroke="#111" stroke-width="0.8"/>
<path d="M186.0,530.3 L191.0,540.7 L181.0,540.7 Z" fill="#FF0000" stroke="#111" stroke-width="0.8"/>
<path d="M195.1,530.3 L200.1,540.7 L190.1,540.7 Z" fill="#FF0000" stroke="#111" stroke-width="0.8"/>
<path d="M204.3,530.3 L209.3,540.7 L199.3,540.7 Z" fill="#FF0000" stroke="#111" stroke-width="0.8"/>
<path d="M213.5,530.1 L218.5,540.5 L208.5,540.5 Z" fill="#FF0000" stroke="#111" stroke-width="0.8"/>
<path d="M222.6,530.1 L227.6,540.5 L217.6,540.5 Z" fill="#FF0000" stroke="#111" stroke-width="0.8"/>
<path d="M231.8,529.9 L236.8,540.3 L226.8,540.3 Z" fill="#FF0000" stroke="#111" stroke-width="0.8"/>
<path d="M241.0,529.9 L246.0,540.3 L236.0,540.3 Z" fill="#FF0000" stroke="#111" stroke-width="0.8"/>
<path d="M250.1,529.7 L255.1,540.1 L245.1,540.1 Z" fill="#FF0000" stroke="#111" stroke-width="0.8"/>
<path d="M259.3,529.4 L264.3,539.8 L254.3,539.8 Z" fill="#FF0000" stroke="#111" stroke-width="0.8"/>
<path d="M268.5,529.2 L273.5,539.6 L263.5,539.6 Z" fill="#FF0000" stroke="#111" stroke-width="0.8"/>
<path d="M277.6,528.8 L282.6,539.2 L272.6,539.2 Z" fill="#FF0000" stroke="#111" stroke-width="0.8"/>
<path d="M286.8,528.8 L291.8,539.2 L281.8,539.2 Z" fill="#FF0000" stroke="#111" stroke-width="0.8"/>
<path d="M296.0,528.8 L301.0,539.2 L291.0,539.2 Z" fill="#FF0000" stroke="#111" stroke-width="0.8"/>
<path d="M305.1,528.8 L310.1,539.2 L300.1,539.2 Z" fill="#FF0000" stroke="#111" stroke-width="0.8"/>
<path d="M314.3,527.7 L319.3,538.1 L309.3,538.1 Z" fill="#FF0000" stroke="#111" stroke-width="0.8"/>
<path d="M323.5,527.7 L328.5,538.1 L318.5,538.1 Z" fill="#FF0000" stroke="#111" stroke-width="0.8"/>
<path d="M332.6,527.7 L337.6,538.1 L327.6,538.1 Z" fill="#FF0000" stroke="#111" stroke-width="0.8"/>
<path d="M341.8,527.9 L346.8,538.3 L336.8,538.3 Z" fill="#FF0000" stroke="#111" stroke-width="0.8"/>
<path d="M350.9,526.8 L355.9,537.2 L345.9,537.2 Z" fill="#FF0000" stroke="#111" stroke-width="0.8"/>
<path d="M360.1,527.9 L365.1,538.3 L355.1,538.3 Z" fill="#FF0000" stroke="#111" stroke-width="0.8"/>
<path d="M369.3,525.9 L374.3,536.3 L364.3,536.3 Z" fill="#FF0000" stroke="#111" stroke-width="0.8"/>
<path d="M378.4,527.2 L383.4,537.6 L373.4,537.6 Z" fill="#FF0000" stroke="#111" stroke-width="0.8"/>
<path d="M387.6,526.5 L392.6,536.9 L382.6,536.9 Z" fill="#FF0000" stroke="#111" stroke-width="0.8"/>
<path d="M396.8,526.3 L401.8,536.7 L391.8,536.7 Z" fill="#FF0000" stroke="#111" stroke-width="0.8"/>
<path d="M405.9,523.2 L410.9,533.6 L400.9,533.6 Z" fill="#FF0000" stroke="#111" stroke-width="0.8"/>
<path d="M415.1,523.2 L420.1,533.6 L410.1,533.6 Z" fill="#FF0000" stroke="#111" stroke-width="0.8"/>
<path d="M424.3,523.2 L429.3,533.6 L419.3,533.6 Z" fill="#FF0000" stroke="#111" stroke-width="0.8"/>
<path d="M433.4,521.2 L438.4,531.6 L428.4,531.6 Z" fill="#FF0000" stroke="#111" stroke-width="0.8"/>
<path d="M442.6,520.3 L447.6,530.7 L437.6,530.7 Z" fill="#FF0000" stroke="#111" stroke-width="0.8"/>
<path d="M451.8,520.5 L456.8,530.9 L446.8,530.9 Z" fill="#FF0000" stroke="#111" stroke-width="0.8"/>
<path d="M460.9,520.3 L465.9,530.7 L455.9,530.7 Z" fill="#FF0000" stroke="#111" stroke-width="0.8"/>
<path d="M470.1,518.7 L475.1,529.1 L465.1,529.1 Z" fill="#FF0000" stroke="#111" stroke-width="0.8"/>
<path d="M479.3,517.9 L484.3,528.3 L474.3,528.3 Z" fill="#FF0000" stroke="#111" stroke-width="0.8"/>
<path d="M488.4,517.2 L493.4,527.6 L483.4,527.6 Z" fill="#FF0000" stroke="#111" stroke-width="0.8"/>
<path d="M497.6,516.3 L502.6,526.7 L492.6,526.7 Z" fill="#FF0000" stroke="#111" stroke-width="0.8"/>
<path d="M506.7,515.4 L511.7,525.8 L501.7,525.8 Z" fill="#FF0000" stroke="#111" stroke-width="0.8"/>
<path d="M515.9,514.3 L520.9,524.7 L510.9,524.7 Z" fill="#FF0000" stroke="#111" stroke-width="0.8"/>
<path d="M525.1,511.2 L530.1,521.6 L520.1,521.6 Z" fill="#FF0000" stroke="#111" stroke-width="0.8"/>
<path d="M534.2,507.6 L539.2,518.0 L529.2,518.0 Z" fill="#FF0000" stroke="#111" stroke-width="0.8"/>
<path d="M543.4,505.6 L548.4,516.0 L538.4,516.0 Z" fill="#FF0000" stroke="#111" stroke-width="0.8"/>
<path d="M552.6,505.4 L557.6,515.8 L547.6,515.8 Z" fill="#FF0000" stroke="#111" stroke-width="0.8"/>
<path d="M561.7,503.4 L566.7,513.8 L556.7,513.8 Z" fill="#FF0000" stroke="#111" stroke-width="0.8"/>
<path d="M570.9,500.7 L575.9,511.1 L565.9,511.1 Z" fill="#FF0000" stroke="#111" stroke-width="0.8"/>
<path d="M580.1,499.4 L585.1,509.8 L575.1,509.8 Z" fill="#FF0000" stroke="#111" stroke-width="0.8"/>
<path d="M589.2,497.8 L594.2,508.2 L584.2,508.2 Z" fill="#FF0000" stroke="#111" stroke-width="0.8"/>
<path d="M598.4,496.3 L603.4,506.7 L593.4,506.7 Z" fill="#FF0000" stroke="#111" stroke-width="0.8"/>
<path d="M607.6,496.3 L612.6,506.7 L602.6,506.7 Z" fill="#FF0000" stroke="#111" stroke-width="0.8"/>
<path d="M616.7,493.4 L621.7,503.8 L611.7,503.8 Z" fill="#FF0000" stroke="#111" stroke-width="0.8"/>
<path d="M625.9,492.2 L630.9,502.6 L620.9,502.6 Z" fill="#FF0000" stroke="#111" stroke-width="0.8"/>
<path d="M635.1,490.0 L640.1,500.4 L630.1,500.4 Z" fill="#FF0000" stroke="#111" stroke-width="0.8"/>
<path d="M644.2,489.6 L649.2,500.0 L639.2,500.0 Z" fill="#FF0000" stroke="#111" stroke-width="0.8"/>
<path d="M653.4,488.2 L658.4,498.6 L648.4,498.6 Z" fill="#FF0000" stroke="#111" stroke-width="0.8"/>
<path d="M662.5,489.6 L667.5,500.0 L657.5,500.0 Z" fill="#FF0000" stroke="#111" stroke-width="0.8"/>
<path d="M671.7,488.2 L676.7,498.6 L666.7,498.6 Z" fill="#FF0000" stroke="#111" stroke-width="0.8"/>
<path d="M680.9,486.7 L685.9,497.1 L675.9,497.1 Z" fill="#FF0000" stroke="#111" stroke-width="0.8"/>
<path d="M690.0,488.0 L695.0,498.4 L685.0,498.4 Z" fill="#FF0000" stroke="#111" stroke-width="0.8"/>
<path d="M699.2,486.7 L704.2,497.1 L694.2,497.1 Z" fill="#FF0000" stroke="#111" stroke-width="0.8"/>
<path d="M708.4,486.7 L713.4,497.1 L703.4,497.1 Z" fill="#FF0000" stroke="#111" stroke-width="0.8"/>
<path d="M717.5,486.7 L722.5,497.1 L712.5,497.1 Z" fill="#FF0000" stroke="#111" stroke-width="0.8"/>
<path d="M726.7,486.7 L731.7,497.1 L721.7,497.1 Z" fill="#FF0000" stroke="#111" stroke-width="0.8"/>
<rect x="243" y="463" width="73" height="27" fill="#fff"/>
<text x="258" y="482.7" font-size="16.8" font-weight="bold" fill="#7f7f7f" textLength="43.2" lengthAdjust="spacingAndGlyphs">Umrli</text>
<g transform="translate(440.5,461) rotate(-43.5)"><rect x="-6" y="-17.5" width="130" height="22.5" fill="#fff"/><text x="0" y="0" font-size="18" font-weight="bold" fill="#FFC000" textLength="118" lengthAdjust="spacingAndGlyphs">Hospitalizirani</text></g>
<g transform="translate(548,497.5) rotate(-12.5)"><rect x="-5" y="-16" width="92" height="21" fill="#fff"/><text x="0" y="0" font-size="17.5" font-weight="bold" fill="#FF0000" textLength="83.5" lengthAdjust="spacingAndGlyphs">Intenzivna</text></g>
<g transform="translate(773.5,221.5) rotate(4.6)"><rect x="-4" y="-16" width="164" height="22" fill="#fff" fill-opacity="0.7"/><text x="0" y="0" font-size="17.5" font-weight="bold" fill="#FF0000" textLength="54.5" lengthAdjust="spacingAndGlyphs">Ukrepi</text><text x="61" y="0" font-size="17.5" font-weight="bold" fill="#FF0000" textLength="43.5" lengthAdjust="spacingAndGlyphs">slabo</text><text x="111.5" y="0" font-size="17.5" font-weight="bold" fill="#FF0000" textLength="46.5" lengthAdjust="spacingAndGlyphs">prijeli</text></g>
<path d="M777,237.4 L930,251.3" stroke="#FF0000" stroke-width="5" stroke-linecap="round" fill="none"/>
<path d="M918.3,241.3 L932,251.6 L916.3,258.4" stroke="#FF0000" stroke-width="5.2" stroke-linecap="round" stroke-linejoin="miter" stroke-miterlimit="10" fill="none"/>
<g transform="translate(765,313) rotate(57)"><rect x="-4" y="-33" width="125" height="47" fill="#fff" fill-opacity="0.7"/><text x="0" y="-16" font-size="18" font-weight="bold" fill="#00B050" textLength="117" lengthAdjust="spacingAndGlyphs">Ukrepi 16.11.</text><text x="0.5" y="9" font-size="18" font-weight="bold" fill="#00B050" textLength="102" lengthAdjust="spacingAndGlyphs">dobro prijeli</text></g>
<path d="M784.5,266 L884.5,416.5" stroke="#00B050" stroke-width="4.6" stroke-linecap="round" fill="none"/>
<path d="M868.9,408.8 L886,418.6 L883.4,398.9" stroke="#00B050" stroke-width="4.8" stroke-linecap="round" stroke-linejoin="miter" fill="none"/>
</svg>
</body></html>
